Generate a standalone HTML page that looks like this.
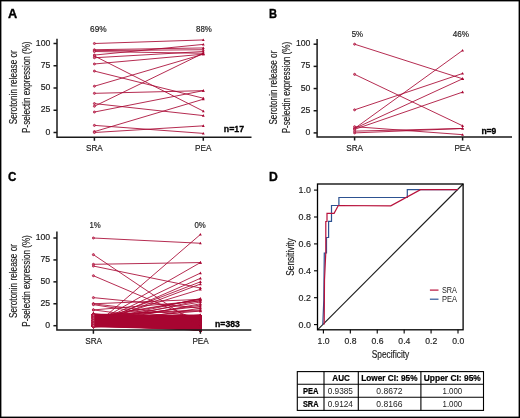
<!DOCTYPE html>
<html><head><meta charset="utf-8"><style>
html,body{margin:0;padding:0;background:#fff;}
svg{display:block;will-change:transform;font-family:"Liberation Sans",sans-serif;}
</style></head><body>
<svg width="520" height="418" viewBox="0 0 520 418">
<rect x="0.7" y="0.7" width="518.6" height="416.6" fill="#fff" stroke="#000" stroke-width="1.4"/>
<text x="7.9" y="18.0" font-size="12.5" font-weight="bold" text-anchor="start" fill="#000" textLength="9.2" lengthAdjust="spacingAndGlyphs" stroke="#000" stroke-width="0.35">A</text>
<text x="268.9" y="18.0" font-size="12.5" font-weight="bold" text-anchor="start" fill="#000" textLength="8.0" lengthAdjust="spacingAndGlyphs" stroke="#000" stroke-width="0.35">B</text>
<text x="8" y="180.6" font-size="12.5" font-weight="bold" text-anchor="start" fill="#000" textLength="8.4" lengthAdjust="spacingAndGlyphs" stroke="#000" stroke-width="0.35">C</text>
<text x="269" y="180.8" font-size="12.5" font-weight="bold" text-anchor="start" fill="#000" textLength="8.8" lengthAdjust="spacingAndGlyphs" stroke="#000" stroke-width="0.35">D</text>
<g stroke="#a80632" stroke-width="0.85" fill="none">
<line x1="94.4" y1="43.50" x2="203.3" y2="39.94"/>
<line x1="94.4" y1="49.73" x2="203.3" y2="47.95"/>
<line x1="94.4" y1="50.62" x2="203.3" y2="49.73"/>
<line x1="94.4" y1="51.51" x2="203.3" y2="53.29"/>
<line x1="94.4" y1="55.07" x2="203.3" y2="44.39"/>
<line x1="94.4" y1="55.96" x2="203.3" y2="111.14"/>
<line x1="94.4" y1="57.74" x2="203.3" y2="51.51"/>
<line x1="94.4" y1="63.97" x2="203.3" y2="54.18"/>
<line x1="94.4" y1="71.09" x2="203.3" y2="98.23"/>
<line x1="94.4" y1="86.22" x2="203.3" y2="54.18"/>
<line x1="94.4" y1="93.34" x2="203.3" y2="90.67"/>
<line x1="94.4" y1="103.58" x2="203.3" y2="115.59"/>
<line x1="94.4" y1="106.25" x2="203.3" y2="53.29"/>
<line x1="94.4" y1="112.03" x2="203.3" y2="90.67"/>
<line x1="94.4" y1="125.38" x2="203.3" y2="133.39"/>
<line x1="94.4" y1="131.61" x2="203.3" y2="99.21"/>
<line x1="94.4" y1="132.50" x2="203.3" y2="125.83"/>
</g>
<g stroke="#a80632" stroke-width="0.7" fill="#d7708c">
<circle cx="94.4" cy="43.50" r="1.05"/>
<circle cx="94.4" cy="49.73" r="1.05"/>
<circle cx="94.4" cy="50.62" r="1.05"/>
<circle cx="94.4" cy="51.51" r="1.05"/>
<circle cx="94.4" cy="55.07" r="1.05"/>
<circle cx="94.4" cy="55.96" r="1.05"/>
<circle cx="94.4" cy="57.74" r="1.05"/>
<circle cx="94.4" cy="63.97" r="1.05"/>
<circle cx="94.4" cy="71.09" r="1.05"/>
<circle cx="94.4" cy="86.22" r="1.05"/>
<circle cx="94.4" cy="93.34" r="1.05"/>
<circle cx="94.4" cy="103.58" r="1.05"/>
<circle cx="94.4" cy="106.25" r="1.05"/>
<circle cx="94.4" cy="112.03" r="1.05"/>
<circle cx="94.4" cy="125.38" r="1.05"/>
<circle cx="94.4" cy="131.61" r="1.05"/>
<circle cx="94.4" cy="132.50" r="1.05"/>
</g>
<g fill="#a80632">
<path d="M201.90 41.04L204.70 41.04L203.30 38.44Z"/>
<path d="M201.90 49.05L204.70 49.05L203.30 46.45Z"/>
<path d="M201.90 50.83L204.70 50.83L203.30 48.23Z"/>
<path d="M201.90 54.39L204.70 54.39L203.30 51.79Z"/>
<path d="M201.90 45.49L204.70 45.49L203.30 42.89Z"/>
<path d="M201.90 112.24L204.70 112.24L203.30 109.64Z"/>
<path d="M201.90 52.61L204.70 52.61L203.30 50.01Z"/>
<path d="M201.90 55.28L204.70 55.28L203.30 52.68Z"/>
<path d="M201.90 99.33L204.70 99.33L203.30 96.73Z"/>
<path d="M201.90 55.28L204.70 55.28L203.30 52.68Z"/>
<path d="M201.90 91.77L204.70 91.77L203.30 89.17Z"/>
<path d="M201.90 116.69L204.70 116.69L203.30 114.09Z"/>
<path d="M201.90 54.39L204.70 54.39L203.30 51.79Z"/>
<path d="M201.90 91.77L204.70 91.77L203.30 89.17Z"/>
<path d="M201.90 134.49L204.70 134.49L203.30 131.89Z"/>
<path d="M201.90 100.31L204.70 100.31L203.30 97.71Z"/>
<path d="M201.90 126.92L204.70 126.92L203.30 124.33Z"/>
</g>
<g stroke="#1a1a1a" stroke-width="1.5" fill="none">
<path d="M57 38.8V137.2H251.5"/>
<path d="M53.5 132.50H57"/>
<path d="M53.5 110.25H57"/>
<path d="M53.5 88.00H57"/>
<path d="M53.5 65.75H57"/>
<path d="M53.5 43.50H57"/>
<path d="M94.4 137.2v3.6M203.3 137.2v3.6"/>
</g>
<g stroke="#a80632" stroke-width="0.85" fill="none">
<line x1="354.6" y1="44.20" x2="462.6" y2="78.79"/>
<line x1="354.6" y1="74.36" x2="462.6" y2="125.80"/>
<line x1="354.6" y1="109.84" x2="462.6" y2="73.47"/>
<line x1="354.6" y1="128.47" x2="462.6" y2="50.41"/>
<line x1="354.6" y1="128.47" x2="462.6" y2="78.79"/>
<line x1="354.6" y1="129.35" x2="462.6" y2="92.10"/>
<line x1="354.6" y1="126.69" x2="462.6" y2="134.67"/>
<line x1="354.6" y1="132.90" x2="462.6" y2="128.47"/>
<line x1="354.6" y1="131.13" x2="462.6" y2="128.47"/>
</g>
<g stroke="#a80632" stroke-width="0.7" fill="#d7708c">
<circle cx="354.6" cy="44.20" r="1.05"/>
<circle cx="354.6" cy="74.36" r="1.05"/>
<circle cx="354.6" cy="109.84" r="1.05"/>
<circle cx="354.6" cy="128.47" r="1.05"/>
<circle cx="354.6" cy="128.47" r="1.05"/>
<circle cx="354.6" cy="129.35" r="1.05"/>
<circle cx="354.6" cy="126.69" r="1.05"/>
<circle cx="354.6" cy="132.90" r="1.05"/>
<circle cx="354.6" cy="131.13" r="1.05"/>
</g>
<g fill="#a80632">
<path d="M461.20 79.89L464.00 79.89L462.60 77.29Z"/>
<path d="M461.20 126.90L464.00 126.90L462.60 124.30Z"/>
<path d="M461.20 74.57L464.00 74.57L462.60 71.97Z"/>
<path d="M461.20 51.51L464.00 51.51L462.60 48.91Z"/>
<path d="M461.20 79.89L464.00 79.89L462.60 77.29Z"/>
<path d="M461.20 93.20L464.00 93.20L462.60 90.60Z"/>
<path d="M461.20 135.77L464.00 135.77L462.60 133.17Z"/>
<path d="M461.20 129.56L464.00 129.56L462.60 126.97Z"/>
<path d="M461.20 129.56L464.00 129.56L462.60 126.97Z"/>
</g>
<g stroke="#1a1a1a" stroke-width="1.5" fill="none">
<path d="M317.1 39V136.9H512"/>
<path d="M313.6 132.90H317.1"/>
<path d="M313.6 110.73H317.1"/>
<path d="M313.6 88.55H317.1"/>
<path d="M313.6 66.38H317.1"/>
<path d="M313.6 44.20H317.1"/>
<path d="M354.6 136.9v3.6M462.6 136.9v3.6"/>
</g>
<g stroke="#a80632" stroke-width="0.85" fill="none">
<line x1="93.4" y1="323.05" x2="200.4" y2="327.98"/>
<line x1="93.4" y1="318.77" x2="200.4" y2="329.25"/>
<line x1="93.4" y1="320.31" x2="200.4" y2="324.62"/>
<line x1="93.4" y1="326.19" x2="200.4" y2="322.46"/>
<line x1="93.4" y1="326.41" x2="200.4" y2="323.59"/>
<line x1="93.4" y1="326.07" x2="200.4" y2="328.95"/>
<line x1="93.4" y1="321.76" x2="200.4" y2="317.71"/>
<line x1="93.4" y1="325.46" x2="200.4" y2="326.83"/>
<line x1="93.4" y1="319.09" x2="200.4" y2="315.94"/>
<line x1="93.4" y1="319.75" x2="200.4" y2="324.15"/>
<line x1="93.4" y1="314.28" x2="200.4" y2="329.69"/>
<line x1="93.4" y1="315.93" x2="200.4" y2="325.80"/>
<line x1="93.4" y1="325.23" x2="200.4" y2="328.52"/>
<line x1="93.4" y1="323.24" x2="200.4" y2="317.87"/>
<line x1="93.4" y1="324.81" x2="200.4" y2="321.35"/>
<line x1="93.4" y1="318.93" x2="200.4" y2="324.52"/>
<line x1="93.4" y1="320.15" x2="200.4" y2="329.42"/>
<line x1="93.4" y1="326.17" x2="200.4" y2="327.10"/>
<line x1="93.4" y1="318.37" x2="200.4" y2="323.67"/>
<line x1="93.4" y1="323.17" x2="200.4" y2="321.29"/>
<line x1="93.4" y1="321.39" x2="200.4" y2="325.64"/>
<line x1="93.4" y1="316.82" x2="200.4" y2="319.60"/>
<line x1="93.4" y1="324.03" x2="200.4" y2="321.46"/>
<line x1="93.4" y1="320.45" x2="200.4" y2="317.00"/>
<line x1="93.4" y1="317.70" x2="200.4" y2="325.82"/>
<line x1="93.4" y1="314.23" x2="200.4" y2="328.51"/>
<line x1="93.4" y1="321.85" x2="200.4" y2="318.74"/>
<line x1="93.4" y1="325.14" x2="200.4" y2="322.74"/>
<line x1="93.4" y1="326.39" x2="200.4" y2="320.06"/>
<line x1="93.4" y1="317.22" x2="200.4" y2="321.48"/>
<line x1="93.4" y1="315.69" x2="200.4" y2="325.42"/>
<line x1="93.4" y1="318.17" x2="200.4" y2="321.16"/>
<line x1="93.4" y1="319.72" x2="200.4" y2="323.24"/>
<line x1="93.4" y1="316.18" x2="200.4" y2="315.98"/>
<line x1="93.4" y1="321.12" x2="200.4" y2="320.12"/>
<line x1="93.4" y1="326.16" x2="200.4" y2="319.56"/>
<line x1="93.4" y1="318.82" x2="200.4" y2="315.27"/>
<line x1="93.4" y1="316.43" x2="200.4" y2="325.88"/>
<line x1="93.4" y1="322.26" x2="200.4" y2="320.05"/>
<line x1="93.4" y1="326.55" x2="200.4" y2="323.16"/>
<line x1="93.4" y1="324.95" x2="200.4" y2="328.52"/>
<line x1="93.4" y1="326.18" x2="200.4" y2="318.58"/>
<line x1="93.4" y1="325.40" x2="200.4" y2="326.45"/>
<line x1="93.4" y1="322.19" x2="200.4" y2="317.05"/>
<line x1="93.4" y1="325.95" x2="200.4" y2="323.35"/>
<line x1="93.4" y1="320.12" x2="200.4" y2="316.88"/>
<line x1="93.4" y1="316.47" x2="200.4" y2="317.17"/>
<line x1="93.4" y1="323.61" x2="200.4" y2="323.87"/>
<line x1="93.4" y1="322.60" x2="200.4" y2="316.87"/>
<line x1="93.4" y1="314.54" x2="200.4" y2="327.98"/>
<line x1="93.4" y1="324.86" x2="200.4" y2="326.69"/>
<line x1="93.4" y1="324.17" x2="200.4" y2="322.81"/>
<line x1="93.4" y1="319.60" x2="200.4" y2="326.21"/>
<line x1="93.4" y1="326.73" x2="200.4" y2="323.81"/>
<line x1="93.4" y1="322.47" x2="200.4" y2="321.58"/>
<line x1="93.4" y1="314.61" x2="200.4" y2="319.73"/>
<line x1="93.4" y1="320.58" x2="200.4" y2="320.82"/>
<line x1="93.4" y1="318.43" x2="200.4" y2="329.57"/>
<line x1="93.4" y1="315.36" x2="200.4" y2="318.40"/>
<line x1="93.4" y1="315.70" x2="200.4" y2="318.14"/>
<line x1="93.4" y1="322.17" x2="200.4" y2="324.11"/>
<line x1="93.4" y1="325.70" x2="200.4" y2="320.56"/>
<line x1="93.4" y1="326.15" x2="200.4" y2="329.34"/>
<line x1="93.4" y1="324.46" x2="200.4" y2="327.80"/>
<line x1="93.4" y1="322.84" x2="200.4" y2="329.59"/>
<line x1="93.4" y1="326.75" x2="200.4" y2="327.97"/>
<line x1="93.4" y1="325.72" x2="200.4" y2="324.66"/>
<line x1="93.4" y1="326.52" x2="200.4" y2="317.02"/>
<line x1="93.4" y1="319.26" x2="200.4" y2="328.02"/>
<line x1="93.4" y1="323.94" x2="200.4" y2="324.90"/>
<line x1="93.4" y1="322.53" x2="200.4" y2="328.43"/>
<line x1="93.4" y1="316.06" x2="200.4" y2="315.27"/>
<line x1="93.4" y1="321.23" x2="200.4" y2="322.82"/>
<line x1="93.4" y1="325.89" x2="200.4" y2="328.77"/>
<line x1="93.4" y1="322.81" x2="200.4" y2="326.18"/>
<line x1="93.4" y1="316.33" x2="200.4" y2="327.81"/>
<line x1="93.4" y1="326.55" x2="200.4" y2="315.90"/>
<line x1="93.4" y1="320.40" x2="200.4" y2="328.05"/>
<line x1="93.4" y1="320.21" x2="200.4" y2="330.02"/>
<line x1="93.4" y1="320.41" x2="200.4" y2="315.49"/>
<line x1="93.4" y1="315.86" x2="200.4" y2="319.64"/>
<line x1="93.4" y1="323.83" x2="200.4" y2="324.60"/>
<line x1="93.4" y1="324.96" x2="200.4" y2="318.53"/>
<line x1="93.4" y1="320.35" x2="200.4" y2="318.42"/>
<line x1="93.4" y1="322.97" x2="200.4" y2="326.83"/>
<line x1="93.4" y1="316.58" x2="200.4" y2="315.40"/>
<line x1="93.4" y1="316.01" x2="200.4" y2="318.02"/>
<line x1="93.4" y1="316.48" x2="200.4" y2="319.00"/>
<line x1="93.4" y1="324.25" x2="200.4" y2="322.31"/>
<line x1="93.4" y1="322.65" x2="200.4" y2="329.99"/>
<line x1="93.4" y1="326.50" x2="200.4" y2="325.95"/>
<line x1="93.4" y1="323.85" x2="200.4" y2="319.70"/>
<line x1="93.4" y1="314.56" x2="200.4" y2="323.38"/>
<line x1="93.4" y1="314.83" x2="200.4" y2="315.35"/>
<line x1="93.4" y1="314.58" x2="200.4" y2="324.64"/>
<line x1="93.4" y1="324.32" x2="200.4" y2="326.77"/>
<line x1="93.4" y1="324.61" x2="200.4" y2="327.13"/>
<line x1="93.4" y1="319.13" x2="200.4" y2="316.63"/>
<line x1="93.4" y1="316.18" x2="200.4" y2="322.89"/>
<line x1="93.4" y1="318.74" x2="200.4" y2="318.11"/>
<line x1="93.4" y1="325.90" x2="200.4" y2="320.17"/>
<line x1="93.4" y1="315.21" x2="200.4" y2="318.37"/>
<line x1="93.4" y1="317.42" x2="200.4" y2="322.91"/>
<line x1="93.4" y1="324.83" x2="200.4" y2="318.27"/>
<line x1="93.4" y1="322.94" x2="200.4" y2="318.10"/>
<line x1="93.4" y1="314.34" x2="200.4" y2="324.16"/>
<line x1="93.4" y1="322.06" x2="200.4" y2="315.96"/>
<line x1="93.4" y1="317.76" x2="200.4" y2="327.67"/>
<line x1="93.4" y1="325.43" x2="200.4" y2="327.97"/>
<line x1="93.4" y1="315.28" x2="200.4" y2="318.01"/>
<line x1="93.4" y1="325.21" x2="200.4" y2="317.72"/>
<line x1="93.4" y1="314.23" x2="200.4" y2="320.22"/>
<line x1="93.4" y1="322.71" x2="200.4" y2="321.85"/>
<line x1="93.4" y1="325.38" x2="200.4" y2="330.25"/>
<line x1="93.4" y1="314.36" x2="200.4" y2="320.33"/>
<line x1="93.4" y1="320.43" x2="200.4" y2="316.15"/>
<line x1="93.4" y1="321.64" x2="200.4" y2="317.05"/>
<line x1="93.4" y1="316.38" x2="200.4" y2="327.02"/>
<line x1="93.4" y1="323.95" x2="200.4" y2="325.74"/>
<line x1="93.4" y1="324.08" x2="200.4" y2="321.28"/>
<line x1="93.4" y1="323.85" x2="200.4" y2="323.81"/>
<line x1="93.4" y1="325.38" x2="200.4" y2="316.49"/>
<line x1="93.4" y1="322.67" x2="200.4" y2="323.21"/>
<line x1="93.4" y1="319.68" x2="200.4" y2="316.58"/>
<line x1="93.4" y1="321.81" x2="200.4" y2="316.38"/>
<line x1="93.4" y1="320.75" x2="200.4" y2="322.10"/>
<line x1="93.4" y1="320.47" x2="200.4" y2="330.17"/>
<line x1="93.4" y1="321.56" x2="200.4" y2="327.46"/>
<line x1="93.4" y1="326.73" x2="200.4" y2="318.12"/>
<line x1="93.4" y1="324.90" x2="200.4" y2="322.98"/>
<line x1="93.4" y1="317.76" x2="200.4" y2="321.73"/>
<line x1="93.4" y1="323.03" x2="200.4" y2="322.31"/>
<line x1="93.4" y1="320.04" x2="200.4" y2="318.34"/>
<line x1="93.4" y1="325.66" x2="200.4" y2="321.67"/>
<line x1="93.4" y1="323.98" x2="200.4" y2="325.99"/>
<line x1="93.4" y1="317.11" x2="200.4" y2="322.46"/>
<line x1="93.4" y1="319.96" x2="200.4" y2="318.70"/>
<line x1="93.4" y1="315.18" x2="200.4" y2="323.44"/>
<line x1="93.4" y1="319.28" x2="200.4" y2="322.50"/>
<line x1="93.4" y1="320.62" x2="200.4" y2="319.69"/>
<line x1="93.4" y1="321.40" x2="200.4" y2="322.08"/>
<line x1="93.4" y1="321.07" x2="200.4" y2="316.03"/>
<line x1="93.4" y1="318.11" x2="200.4" y2="316.98"/>
<line x1="93.4" y1="314.76" x2="200.4" y2="326.26"/>
<line x1="93.4" y1="319.99" x2="200.4" y2="316.00"/>
<line x1="93.4" y1="316.18" x2="200.4" y2="328.20"/>
<line x1="93.4" y1="325.49" x2="200.4" y2="323.45"/>
<line x1="93.4" y1="326.04" x2="200.4" y2="326.56"/>
<line x1="93.4" y1="326.03" x2="200.4" y2="320.04"/>
<line x1="93.4" y1="316.96" x2="200.4" y2="316.68"/>
<line x1="93.4" y1="325.11" x2="200.4" y2="319.35"/>
<line x1="93.4" y1="318.64" x2="200.4" y2="328.10"/>
<line x1="93.4" y1="315.59" x2="200.4" y2="315.65"/>
<line x1="93.4" y1="324.33" x2="200.4" y2="315.87"/>
<line x1="93.4" y1="322.10" x2="200.4" y2="322.77"/>
<line x1="93.4" y1="314.09" x2="200.4" y2="317.63"/>
<line x1="93.4" y1="325.03" x2="200.4" y2="323.61"/>
<line x1="93.4" y1="320.57" x2="200.4" y2="325.03"/>
<line x1="93.4" y1="324.62" x2="200.4" y2="325.35"/>
<line x1="93.4" y1="317.80" x2="200.4" y2="330.16"/>
<line x1="93.4" y1="320.06" x2="200.4" y2="323.48"/>
<line x1="93.4" y1="326.59" x2="200.4" y2="325.15"/>
<line x1="93.4" y1="319.13" x2="200.4" y2="322.39"/>
<line x1="93.4" y1="326.13" x2="200.4" y2="315.40"/>
<line x1="93.4" y1="316.89" x2="200.4" y2="315.59"/>
<line x1="93.4" y1="325.68" x2="200.4" y2="326.16"/>
<line x1="93.4" y1="326.38" x2="200.4" y2="318.42"/>
<line x1="93.4" y1="323.72" x2="200.4" y2="328.32"/>
<line x1="93.4" y1="321.79" x2="200.4" y2="316.47"/>
<line x1="93.4" y1="316.47" x2="200.4" y2="326.28"/>
<line x1="93.4" y1="325.17" x2="200.4" y2="316.36"/>
<line x1="93.4" y1="319.84" x2="200.4" y2="319.58"/>
<line x1="93.4" y1="325.85" x2="200.4" y2="329.51"/>
<line x1="93.4" y1="318.26" x2="200.4" y2="323.71"/>
<line x1="93.4" y1="326.04" x2="200.4" y2="316.08"/>
<line x1="93.4" y1="318.99" x2="200.4" y2="318.09"/>
<line x1="93.4" y1="325.92" x2="200.4" y2="317.28"/>
<line x1="93.4" y1="326.10" x2="200.4" y2="317.18"/>
<line x1="93.4" y1="321.39" x2="200.4" y2="325.03"/>
<line x1="93.4" y1="320.08" x2="200.4" y2="316.25"/>
<line x1="93.4" y1="323.74" x2="200.4" y2="328.32"/>
<line x1="93.4" y1="320.42" x2="200.4" y2="326.59"/>
<line x1="93.4" y1="325.63" x2="200.4" y2="327.80"/>
<line x1="93.4" y1="326.27" x2="200.4" y2="327.16"/>
<line x1="93.4" y1="323.20" x2="200.4" y2="325.56"/>
<line x1="93.4" y1="317.29" x2="200.4" y2="325.79"/>
<line x1="93.4" y1="320.78" x2="200.4" y2="327.55"/>
<line x1="93.4" y1="322.75" x2="200.4" y2="330.18"/>
<line x1="93.4" y1="323.96" x2="200.4" y2="330.23"/>
<line x1="93.4" y1="317.65" x2="200.4" y2="321.81"/>
<line x1="93.4" y1="324.70" x2="200.4" y2="322.96"/>
<line x1="93.4" y1="314.87" x2="200.4" y2="328.70"/>
<line x1="93.4" y1="316.47" x2="200.4" y2="323.60"/>
<line x1="93.4" y1="320.84" x2="200.4" y2="317.60"/>
<line x1="93.4" y1="322.17" x2="200.4" y2="322.48"/>
<line x1="93.4" y1="318.27" x2="200.4" y2="315.43"/>
<line x1="93.4" y1="322.81" x2="200.4" y2="317.63"/>
<line x1="93.4" y1="318.01" x2="200.4" y2="320.54"/>
<line x1="93.4" y1="322.02" x2="200.4" y2="324.90"/>
<line x1="93.4" y1="326.23" x2="200.4" y2="328.31"/>
<line x1="93.4" y1="326.06" x2="200.4" y2="318.98"/>
<line x1="93.4" y1="323.89" x2="200.4" y2="327.78"/>
<line x1="93.4" y1="325.91" x2="200.4" y2="317.50"/>
<line x1="93.4" y1="315.76" x2="200.4" y2="320.03"/>
<line x1="93.4" y1="323.57" x2="200.4" y2="326.53"/>
<line x1="93.4" y1="323.44" x2="200.4" y2="323.19"/>
<line x1="93.4" y1="325.08" x2="200.4" y2="323.40"/>
<line x1="93.4" y1="323.81" x2="200.4" y2="315.74"/>
<line x1="93.4" y1="314.33" x2="200.4" y2="321.87"/>
<line x1="93.4" y1="324.03" x2="200.4" y2="315.68"/>
<line x1="93.4" y1="323.23" x2="200.4" y2="324.76"/>
<line x1="93.4" y1="326.74" x2="200.4" y2="324.38"/>
<line x1="93.4" y1="321.11" x2="200.4" y2="322.53"/>
<line x1="93.4" y1="324.56" x2="200.4" y2="322.51"/>
<line x1="93.4" y1="326.72" x2="200.4" y2="326.19"/>
<line x1="93.4" y1="325.85" x2="200.4" y2="324.10"/>
<line x1="93.4" y1="326.37" x2="200.4" y2="330.10"/>
<line x1="93.4" y1="323.30" x2="200.4" y2="326.68"/>
<line x1="93.4" y1="319.65" x2="200.4" y2="322.14"/>
<line x1="93.4" y1="317.41" x2="200.4" y2="320.22"/>
<line x1="93.4" y1="317.89" x2="200.4" y2="316.95"/>
<line x1="93.4" y1="322.21" x2="200.4" y2="325.23"/>
<line x1="93.4" y1="314.17" x2="200.4" y2="328.00"/>
<line x1="93.4" y1="317.77" x2="200.4" y2="320.43"/>
<line x1="93.4" y1="326.34" x2="200.4" y2="317.59"/>
<line x1="93.4" y1="315.47" x2="200.4" y2="320.67"/>
<line x1="93.4" y1="317.64" x2="200.4" y2="317.93"/>
<line x1="93.4" y1="325.29" x2="200.4" y2="322.22"/>
<line x1="93.4" y1="320.72" x2="200.4" y2="317.60"/>
<line x1="93.4" y1="316.67" x2="200.4" y2="317.72"/>
<line x1="93.4" y1="319.67" x2="200.4" y2="316.75"/>
<line x1="93.4" y1="318.33" x2="200.4" y2="319.68"/>
<line x1="93.4" y1="324.21" x2="200.4" y2="329.95"/>
<line x1="93.4" y1="325.36" x2="200.4" y2="324.70"/>
<line x1="93.4" y1="325.68" x2="200.4" y2="317.58"/>
<line x1="93.4" y1="320.01" x2="200.4" y2="320.67"/>
<line x1="93.4" y1="319.10" x2="200.4" y2="319.88"/>
<line x1="93.4" y1="320.92" x2="200.4" y2="330.45"/>
<line x1="93.4" y1="316.76" x2="200.4" y2="318.87"/>
<line x1="93.4" y1="320.74" x2="200.4" y2="322.05"/>
<line x1="93.4" y1="318.66" x2="200.4" y2="329.37"/>
<line x1="93.4" y1="317.61" x2="200.4" y2="326.38"/>
<line x1="93.4" y1="326.02" x2="200.4" y2="326.16"/>
<line x1="93.4" y1="317.70" x2="200.4" y2="327.11"/>
<line x1="93.4" y1="317.56" x2="200.4" y2="315.53"/>
<line x1="93.4" y1="320.86" x2="200.4" y2="324.37"/>
<line x1="93.4" y1="321.05" x2="200.4" y2="319.83"/>
<line x1="93.4" y1="317.19" x2="200.4" y2="320.82"/>
<line x1="93.4" y1="318.88" x2="200.4" y2="329.17"/>
<line x1="93.4" y1="325.19" x2="200.4" y2="326.35"/>
<line x1="93.4" y1="317.52" x2="200.4" y2="325.57"/>
<line x1="93.4" y1="319.89" x2="200.4" y2="330.29"/>
<line x1="93.4" y1="326.16" x2="200.4" y2="326.12"/>
<line x1="93.4" y1="318.48" x2="200.4" y2="319.70"/>
<line x1="93.4" y1="318.43" x2="200.4" y2="325.78"/>
<line x1="93.4" y1="320.56" x2="200.4" y2="323.11"/>
<line x1="93.4" y1="321.22" x2="200.4" y2="328.50"/>
<line x1="93.4" y1="315.44" x2="200.4" y2="327.21"/>
<line x1="93.4" y1="314.26" x2="200.4" y2="316.11"/>
<line x1="93.4" y1="326.60" x2="200.4" y2="323.20"/>
<line x1="93.4" y1="316.46" x2="200.4" y2="315.64"/>
<line x1="93.4" y1="321.44" x2="200.4" y2="326.12"/>
<line x1="93.4" y1="324.45" x2="200.4" y2="315.97"/>
<line x1="93.4" y1="324.45" x2="200.4" y2="321.35"/>
<line x1="93.4" y1="325.26" x2="200.4" y2="322.22"/>
<line x1="93.4" y1="314.61" x2="200.4" y2="328.27"/>
<line x1="93.4" y1="316.46" x2="200.4" y2="322.45"/>
<line x1="93.4" y1="315.54" x2="200.4" y2="319.53"/>
<line x1="93.4" y1="324.19" x2="200.4" y2="316.68"/>
<line x1="93.4" y1="320.96" x2="200.4" y2="330.07"/>
<line x1="93.4" y1="326.73" x2="200.4" y2="322.70"/>
<line x1="93.4" y1="321.42" x2="200.4" y2="325.60"/>
<line x1="93.4" y1="325.27" x2="200.4" y2="324.95"/>
<line x1="93.4" y1="323.15" x2="200.4" y2="317.52"/>
<line x1="93.4" y1="326.74" x2="200.4" y2="318.83"/>
<line x1="93.4" y1="316.19" x2="200.4" y2="328.47"/>
<line x1="93.4" y1="314.98" x2="200.4" y2="319.39"/>
<line x1="93.4" y1="315.33" x2="200.4" y2="325.79"/>
<line x1="93.4" y1="322.44" x2="200.4" y2="324.21"/>
<line x1="93.4" y1="313.97" x2="200.4" y2="321.24"/>
<line x1="93.4" y1="322.58" x2="200.4" y2="323.67"/>
<line x1="93.4" y1="323.66" x2="200.4" y2="329.66"/>
<line x1="93.4" y1="325.72" x2="200.4" y2="317.60"/>
<line x1="93.4" y1="323.53" x2="200.4" y2="316.11"/>
<line x1="93.4" y1="323.97" x2="200.4" y2="326.16"/>
<line x1="93.4" y1="320.63" x2="200.4" y2="327.36"/>
<line x1="93.4" y1="322.42" x2="200.4" y2="315.82"/>
<line x1="93.4" y1="315.57" x2="200.4" y2="317.93"/>
<line x1="93.4" y1="319.03" x2="200.4" y2="316.44"/>
<line x1="93.4" y1="314.78" x2="200.4" y2="321.84"/>
<line x1="93.4" y1="317.83" x2="200.4" y2="329.64"/>
<line x1="93.4" y1="317.67" x2="200.4" y2="323.32"/>
<line x1="93.4" y1="317.39" x2="200.4" y2="320.41"/>
<line x1="93.4" y1="323.52" x2="200.4" y2="329.65"/>
<line x1="93.4" y1="314.97" x2="200.4" y2="328.36"/>
<line x1="93.4" y1="321.14" x2="200.4" y2="324.96"/>
<line x1="93.4" y1="323.38" x2="200.4" y2="319.01"/>
<line x1="93.4" y1="314.28" x2="200.4" y2="326.25"/>
<line x1="93.4" y1="318.70" x2="200.4" y2="325.62"/>
<line x1="93.4" y1="320.03" x2="200.4" y2="324.18"/>
<line x1="93.4" y1="324.96" x2="200.4" y2="327.80"/>
<line x1="93.4" y1="324.48" x2="200.4" y2="316.55"/>
<line x1="93.4" y1="320.82" x2="200.4" y2="326.88"/>
<line x1="93.4" y1="315.26" x2="200.4" y2="315.23"/>
<line x1="93.4" y1="321.43" x2="200.4" y2="328.16"/>
<line x1="93.4" y1="324.67" x2="200.4" y2="328.95"/>
<line x1="93.4" y1="322.82" x2="200.4" y2="328.94"/>
<line x1="93.4" y1="324.10" x2="200.4" y2="326.28"/>
<line x1="93.4" y1="319.86" x2="200.4" y2="316.82"/>
<line x1="93.4" y1="317.43" x2="200.4" y2="323.90"/>
<line x1="93.4" y1="321.90" x2="200.4" y2="322.22"/>
<line x1="93.4" y1="322.38" x2="200.4" y2="325.04"/>
<line x1="93.4" y1="326.15" x2="200.4" y2="325.98"/>
<line x1="93.4" y1="314.40" x2="200.4" y2="328.38"/>
<line x1="93.4" y1="320.74" x2="200.4" y2="320.63"/>
<line x1="93.4" y1="315.87" x2="200.4" y2="326.95"/>
<line x1="93.4" y1="323.71" x2="200.4" y2="326.44"/>
<line x1="93.4" y1="322.08" x2="200.4" y2="323.40"/>
<line x1="93.4" y1="314.60" x2="200.4" y2="317.39"/>
<line x1="93.4" y1="315.73" x2="200.4" y2="330.12"/>
<line x1="93.4" y1="326.46" x2="200.4" y2="319.45"/>
<line x1="93.4" y1="315.41" x2="200.4" y2="322.98"/>
<line x1="93.4" y1="319.62" x2="200.4" y2="330.52"/>
<line x1="93.4" y1="322.19" x2="200.4" y2="316.25"/>
<line x1="93.4" y1="316.39" x2="200.4" y2="317.29"/>
<line x1="93.4" y1="314.34" x2="200.4" y2="326.44"/>
<line x1="93.4" y1="325.63" x2="200.4" y2="327.92"/>
<line x1="93.4" y1="320.48" x2="200.4" y2="319.85"/>
<line x1="93.4" y1="314.77" x2="200.4" y2="319.26"/>
<line x1="93.4" y1="318.82" x2="200.4" y2="318.63"/>
<line x1="93.4" y1="321.34" x2="200.4" y2="321.81"/>
<line x1="93.4" y1="326.38" x2="200.4" y2="318.37"/>
<line x1="93.4" y1="324.18" x2="200.4" y2="316.34"/>
<line x1="93.4" y1="318.84" x2="200.4" y2="325.58"/>
<line x1="93.4" y1="325.42" x2="200.4" y2="326.38"/>
<line x1="93.4" y1="318.96" x2="200.4" y2="319.60"/>
<line x1="93.4" y1="325.59" x2="200.4" y2="329.29"/>
<line x1="93.4" y1="320.46" x2="200.4" y2="321.33"/>
<line x1="93.4" y1="322.24" x2="200.4" y2="326.82"/>
<line x1="93.4" y1="319.44" x2="200.4" y2="330.32"/>
<line x1="93.4" y1="323.33" x2="200.4" y2="323.17"/>
<line x1="93.4" y1="314.53" x2="200.4" y2="320.41"/>
<line x1="93.4" y1="315.58" x2="200.4" y2="322.95"/>
<line x1="93.4" y1="324.15" x2="200.4" y2="326.45"/>
<line x1="93.4" y1="314.78" x2="200.4" y2="310.85"/>
<line x1="93.4" y1="322.81" x2="200.4" y2="315.04"/>
<line x1="93.4" y1="320.46" x2="200.4" y2="311.04"/>
<line x1="93.4" y1="321.42" x2="200.4" y2="305.03"/>
<line x1="93.4" y1="318.39" x2="200.4" y2="299.17"/>
<line x1="93.4" y1="238.00" x2="200.4" y2="243.26"/>
<line x1="93.4" y1="254.66" x2="200.4" y2="326.58"/>
<line x1="93.4" y1="264.31" x2="200.4" y2="262.56"/>
<line x1="93.4" y1="266.06" x2="200.4" y2="287.99"/>
<line x1="93.4" y1="275.71" x2="200.4" y2="321.31"/>
<line x1="93.4" y1="326.58" x2="200.4" y2="234.49"/>
<line x1="93.4" y1="323.95" x2="200.4" y2="262.56"/>
<line x1="93.4" y1="323.95" x2="200.4" y2="273.08"/>
<line x1="93.4" y1="324.82" x2="200.4" y2="278.34"/>
<line x1="93.4" y1="323.07" x2="200.4" y2="281.85"/>
<line x1="93.4" y1="324.82" x2="200.4" y2="284.04"/>
<line x1="93.4" y1="322.19" x2="200.4" y2="289.39"/>
<line x1="93.4" y1="297.64" x2="200.4" y2="308.16"/>
<line x1="93.4" y1="303.77" x2="200.4" y2="316.93"/>
<line x1="93.4" y1="303.77" x2="200.4" y2="299.39"/>
<line x1="93.4" y1="304.65" x2="200.4" y2="321.31"/>
<line x1="93.4" y1="309.91" x2="200.4" y2="301.14"/>
<line x1="93.4" y1="309.91" x2="200.4" y2="323.95"/>
<line x1="93.4" y1="321.31" x2="200.4" y2="298.51"/>
<line x1="93.4" y1="323.07" x2="200.4" y2="300.27"/>
<line x1="93.4" y1="320.44" x2="200.4" y2="302.02"/>
<line x1="93.4" y1="323.95" x2="200.4" y2="303.77"/>
<line x1="93.4" y1="318.68" x2="200.4" y2="306.41"/>
<line x1="93.4" y1="316.93" x2="200.4" y2="299.39"/>
<line x1="93.4" y1="325.70" x2="200.4" y2="308.16"/>
<line x1="93.4" y1="315.18" x2="200.4" y2="309.91"/>
</g>
<g stroke="#a80632" stroke-width="0.7" fill="#d7708c">
<circle cx="93.4" cy="323.05" r="1.05"/>
<circle cx="93.4" cy="318.77" r="1.05"/>
<circle cx="93.4" cy="320.31" r="1.05"/>
<circle cx="93.4" cy="326.19" r="1.05"/>
<circle cx="93.4" cy="326.41" r="1.05"/>
<circle cx="93.4" cy="326.07" r="1.05"/>
<circle cx="93.4" cy="321.76" r="1.05"/>
<circle cx="93.4" cy="325.46" r="1.05"/>
<circle cx="93.4" cy="319.09" r="1.05"/>
<circle cx="93.4" cy="319.75" r="1.05"/>
<circle cx="93.4" cy="314.28" r="1.05"/>
<circle cx="93.4" cy="315.93" r="1.05"/>
<circle cx="93.4" cy="325.23" r="1.05"/>
<circle cx="93.4" cy="323.24" r="1.05"/>
<circle cx="93.4" cy="324.81" r="1.05"/>
<circle cx="93.4" cy="318.93" r="1.05"/>
<circle cx="93.4" cy="320.15" r="1.05"/>
<circle cx="93.4" cy="326.17" r="1.05"/>
<circle cx="93.4" cy="318.37" r="1.05"/>
<circle cx="93.4" cy="323.17" r="1.05"/>
<circle cx="93.4" cy="321.39" r="1.05"/>
<circle cx="93.4" cy="316.82" r="1.05"/>
<circle cx="93.4" cy="324.03" r="1.05"/>
<circle cx="93.4" cy="320.45" r="1.05"/>
<circle cx="93.4" cy="317.70" r="1.05"/>
<circle cx="93.4" cy="314.23" r="1.05"/>
<circle cx="93.4" cy="321.85" r="1.05"/>
<circle cx="93.4" cy="325.14" r="1.05"/>
<circle cx="93.4" cy="326.39" r="1.05"/>
<circle cx="93.4" cy="317.22" r="1.05"/>
<circle cx="93.4" cy="315.69" r="1.05"/>
<circle cx="93.4" cy="318.17" r="1.05"/>
<circle cx="93.4" cy="319.72" r="1.05"/>
<circle cx="93.4" cy="316.18" r="1.05"/>
<circle cx="93.4" cy="321.12" r="1.05"/>
<circle cx="93.4" cy="326.16" r="1.05"/>
<circle cx="93.4" cy="318.82" r="1.05"/>
<circle cx="93.4" cy="316.43" r="1.05"/>
<circle cx="93.4" cy="322.26" r="1.05"/>
<circle cx="93.4" cy="326.55" r="1.05"/>
<circle cx="93.4" cy="324.95" r="1.05"/>
<circle cx="93.4" cy="326.18" r="1.05"/>
<circle cx="93.4" cy="325.40" r="1.05"/>
<circle cx="93.4" cy="322.19" r="1.05"/>
<circle cx="93.4" cy="325.95" r="1.05"/>
<circle cx="93.4" cy="320.12" r="1.05"/>
<circle cx="93.4" cy="316.47" r="1.05"/>
<circle cx="93.4" cy="323.61" r="1.05"/>
<circle cx="93.4" cy="322.60" r="1.05"/>
<circle cx="93.4" cy="314.54" r="1.05"/>
<circle cx="93.4" cy="324.86" r="1.05"/>
<circle cx="93.4" cy="324.17" r="1.05"/>
<circle cx="93.4" cy="319.60" r="1.05"/>
<circle cx="93.4" cy="326.73" r="1.05"/>
<circle cx="93.4" cy="322.47" r="1.05"/>
<circle cx="93.4" cy="314.61" r="1.05"/>
<circle cx="93.4" cy="320.58" r="1.05"/>
<circle cx="93.4" cy="318.43" r="1.05"/>
<circle cx="93.4" cy="315.36" r="1.05"/>
<circle cx="93.4" cy="315.70" r="1.05"/>
<circle cx="93.4" cy="322.17" r="1.05"/>
<circle cx="93.4" cy="325.70" r="1.05"/>
<circle cx="93.4" cy="326.15" r="1.05"/>
<circle cx="93.4" cy="324.46" r="1.05"/>
<circle cx="93.4" cy="322.84" r="1.05"/>
<circle cx="93.4" cy="326.75" r="1.05"/>
<circle cx="93.4" cy="325.72" r="1.05"/>
<circle cx="93.4" cy="326.52" r="1.05"/>
<circle cx="93.4" cy="319.26" r="1.05"/>
<circle cx="93.4" cy="323.94" r="1.05"/>
<circle cx="93.4" cy="322.53" r="1.05"/>
<circle cx="93.4" cy="316.06" r="1.05"/>
<circle cx="93.4" cy="321.23" r="1.05"/>
<circle cx="93.4" cy="325.89" r="1.05"/>
<circle cx="93.4" cy="322.81" r="1.05"/>
<circle cx="93.4" cy="316.33" r="1.05"/>
<circle cx="93.4" cy="326.55" r="1.05"/>
<circle cx="93.4" cy="320.40" r="1.05"/>
<circle cx="93.4" cy="320.21" r="1.05"/>
<circle cx="93.4" cy="320.41" r="1.05"/>
<circle cx="93.4" cy="315.86" r="1.05"/>
<circle cx="93.4" cy="323.83" r="1.05"/>
<circle cx="93.4" cy="324.96" r="1.05"/>
<circle cx="93.4" cy="320.35" r="1.05"/>
<circle cx="93.4" cy="322.97" r="1.05"/>
<circle cx="93.4" cy="316.58" r="1.05"/>
<circle cx="93.4" cy="316.01" r="1.05"/>
<circle cx="93.4" cy="316.48" r="1.05"/>
<circle cx="93.4" cy="324.25" r="1.05"/>
<circle cx="93.4" cy="322.65" r="1.05"/>
<circle cx="93.4" cy="326.50" r="1.05"/>
<circle cx="93.4" cy="323.85" r="1.05"/>
<circle cx="93.4" cy="314.56" r="1.05"/>
<circle cx="93.4" cy="314.83" r="1.05"/>
<circle cx="93.4" cy="314.58" r="1.05"/>
<circle cx="93.4" cy="324.32" r="1.05"/>
<circle cx="93.4" cy="324.61" r="1.05"/>
<circle cx="93.4" cy="319.13" r="1.05"/>
<circle cx="93.4" cy="316.18" r="1.05"/>
<circle cx="93.4" cy="318.74" r="1.05"/>
<circle cx="93.4" cy="325.90" r="1.05"/>
<circle cx="93.4" cy="315.21" r="1.05"/>
<circle cx="93.4" cy="317.42" r="1.05"/>
<circle cx="93.4" cy="324.83" r="1.05"/>
<circle cx="93.4" cy="322.94" r="1.05"/>
<circle cx="93.4" cy="314.34" r="1.05"/>
<circle cx="93.4" cy="322.06" r="1.05"/>
<circle cx="93.4" cy="317.76" r="1.05"/>
<circle cx="93.4" cy="325.43" r="1.05"/>
<circle cx="93.4" cy="315.28" r="1.05"/>
<circle cx="93.4" cy="325.21" r="1.05"/>
<circle cx="93.4" cy="314.23" r="1.05"/>
<circle cx="93.4" cy="322.71" r="1.05"/>
<circle cx="93.4" cy="325.38" r="1.05"/>
<circle cx="93.4" cy="314.36" r="1.05"/>
<circle cx="93.4" cy="320.43" r="1.05"/>
<circle cx="93.4" cy="321.64" r="1.05"/>
<circle cx="93.4" cy="316.38" r="1.05"/>
<circle cx="93.4" cy="323.95" r="1.05"/>
<circle cx="93.4" cy="324.08" r="1.05"/>
<circle cx="93.4" cy="323.85" r="1.05"/>
<circle cx="93.4" cy="325.38" r="1.05"/>
<circle cx="93.4" cy="322.67" r="1.05"/>
<circle cx="93.4" cy="319.68" r="1.05"/>
<circle cx="93.4" cy="321.81" r="1.05"/>
<circle cx="93.4" cy="320.75" r="1.05"/>
<circle cx="93.4" cy="320.47" r="1.05"/>
<circle cx="93.4" cy="321.56" r="1.05"/>
<circle cx="93.4" cy="326.73" r="1.05"/>
<circle cx="93.4" cy="324.90" r="1.05"/>
<circle cx="93.4" cy="317.76" r="1.05"/>
<circle cx="93.4" cy="323.03" r="1.05"/>
<circle cx="93.4" cy="320.04" r="1.05"/>
<circle cx="93.4" cy="325.66" r="1.05"/>
<circle cx="93.4" cy="323.98" r="1.05"/>
<circle cx="93.4" cy="317.11" r="1.05"/>
<circle cx="93.4" cy="319.96" r="1.05"/>
<circle cx="93.4" cy="315.18" r="1.05"/>
<circle cx="93.4" cy="319.28" r="1.05"/>
<circle cx="93.4" cy="320.62" r="1.05"/>
<circle cx="93.4" cy="321.40" r="1.05"/>
<circle cx="93.4" cy="321.07" r="1.05"/>
<circle cx="93.4" cy="318.11" r="1.05"/>
<circle cx="93.4" cy="314.76" r="1.05"/>
<circle cx="93.4" cy="319.99" r="1.05"/>
<circle cx="93.4" cy="316.18" r="1.05"/>
<circle cx="93.4" cy="325.49" r="1.05"/>
<circle cx="93.4" cy="326.04" r="1.05"/>
<circle cx="93.4" cy="326.03" r="1.05"/>
<circle cx="93.4" cy="316.96" r="1.05"/>
<circle cx="93.4" cy="325.11" r="1.05"/>
<circle cx="93.4" cy="318.64" r="1.05"/>
<circle cx="93.4" cy="315.59" r="1.05"/>
<circle cx="93.4" cy="324.33" r="1.05"/>
<circle cx="93.4" cy="322.10" r="1.05"/>
<circle cx="93.4" cy="314.09" r="1.05"/>
<circle cx="93.4" cy="325.03" r="1.05"/>
<circle cx="93.4" cy="320.57" r="1.05"/>
<circle cx="93.4" cy="324.62" r="1.05"/>
<circle cx="93.4" cy="317.80" r="1.05"/>
<circle cx="93.4" cy="320.06" r="1.05"/>
<circle cx="93.4" cy="326.59" r="1.05"/>
<circle cx="93.4" cy="319.13" r="1.05"/>
<circle cx="93.4" cy="326.13" r="1.05"/>
<circle cx="93.4" cy="316.89" r="1.05"/>
<circle cx="93.4" cy="325.68" r="1.05"/>
<circle cx="93.4" cy="326.38" r="1.05"/>
<circle cx="93.4" cy="323.72" r="1.05"/>
<circle cx="93.4" cy="321.79" r="1.05"/>
<circle cx="93.4" cy="316.47" r="1.05"/>
<circle cx="93.4" cy="325.17" r="1.05"/>
<circle cx="93.4" cy="319.84" r="1.05"/>
<circle cx="93.4" cy="325.85" r="1.05"/>
<circle cx="93.4" cy="318.26" r="1.05"/>
<circle cx="93.4" cy="326.04" r="1.05"/>
<circle cx="93.4" cy="318.99" r="1.05"/>
<circle cx="93.4" cy="325.92" r="1.05"/>
<circle cx="93.4" cy="326.10" r="1.05"/>
<circle cx="93.4" cy="321.39" r="1.05"/>
<circle cx="93.4" cy="320.08" r="1.05"/>
<circle cx="93.4" cy="323.74" r="1.05"/>
<circle cx="93.4" cy="320.42" r="1.05"/>
<circle cx="93.4" cy="325.63" r="1.05"/>
<circle cx="93.4" cy="326.27" r="1.05"/>
<circle cx="93.4" cy="323.20" r="1.05"/>
<circle cx="93.4" cy="317.29" r="1.05"/>
<circle cx="93.4" cy="320.78" r="1.05"/>
<circle cx="93.4" cy="322.75" r="1.05"/>
<circle cx="93.4" cy="323.96" r="1.05"/>
<circle cx="93.4" cy="317.65" r="1.05"/>
<circle cx="93.4" cy="324.70" r="1.05"/>
<circle cx="93.4" cy="314.87" r="1.05"/>
<circle cx="93.4" cy="316.47" r="1.05"/>
<circle cx="93.4" cy="320.84" r="1.05"/>
<circle cx="93.4" cy="322.17" r="1.05"/>
<circle cx="93.4" cy="318.27" r="1.05"/>
<circle cx="93.4" cy="322.81" r="1.05"/>
<circle cx="93.4" cy="318.01" r="1.05"/>
<circle cx="93.4" cy="322.02" r="1.05"/>
<circle cx="93.4" cy="326.23" r="1.05"/>
<circle cx="93.4" cy="326.06" r="1.05"/>
<circle cx="93.4" cy="323.89" r="1.05"/>
<circle cx="93.4" cy="325.91" r="1.05"/>
<circle cx="93.4" cy="315.76" r="1.05"/>
<circle cx="93.4" cy="323.57" r="1.05"/>
<circle cx="93.4" cy="323.44" r="1.05"/>
<circle cx="93.4" cy="325.08" r="1.05"/>
<circle cx="93.4" cy="323.81" r="1.05"/>
<circle cx="93.4" cy="314.33" r="1.05"/>
<circle cx="93.4" cy="324.03" r="1.05"/>
<circle cx="93.4" cy="323.23" r="1.05"/>
<circle cx="93.4" cy="326.74" r="1.05"/>
<circle cx="93.4" cy="321.11" r="1.05"/>
<circle cx="93.4" cy="324.56" r="1.05"/>
<circle cx="93.4" cy="326.72" r="1.05"/>
<circle cx="93.4" cy="325.85" r="1.05"/>
<circle cx="93.4" cy="326.37" r="1.05"/>
<circle cx="93.4" cy="323.30" r="1.05"/>
<circle cx="93.4" cy="319.65" r="1.05"/>
<circle cx="93.4" cy="317.41" r="1.05"/>
<circle cx="93.4" cy="317.89" r="1.05"/>
<circle cx="93.4" cy="322.21" r="1.05"/>
<circle cx="93.4" cy="314.17" r="1.05"/>
<circle cx="93.4" cy="317.77" r="1.05"/>
<circle cx="93.4" cy="326.34" r="1.05"/>
<circle cx="93.4" cy="315.47" r="1.05"/>
<circle cx="93.4" cy="317.64" r="1.05"/>
<circle cx="93.4" cy="325.29" r="1.05"/>
<circle cx="93.4" cy="320.72" r="1.05"/>
<circle cx="93.4" cy="316.67" r="1.05"/>
<circle cx="93.4" cy="319.67" r="1.05"/>
<circle cx="93.4" cy="318.33" r="1.05"/>
<circle cx="93.4" cy="324.21" r="1.05"/>
<circle cx="93.4" cy="325.36" r="1.05"/>
<circle cx="93.4" cy="325.68" r="1.05"/>
<circle cx="93.4" cy="320.01" r="1.05"/>
<circle cx="93.4" cy="319.10" r="1.05"/>
<circle cx="93.4" cy="320.92" r="1.05"/>
<circle cx="93.4" cy="316.76" r="1.05"/>
<circle cx="93.4" cy="320.74" r="1.05"/>
<circle cx="93.4" cy="318.66" r="1.05"/>
<circle cx="93.4" cy="317.61" r="1.05"/>
<circle cx="93.4" cy="326.02" r="1.05"/>
<circle cx="93.4" cy="317.70" r="1.05"/>
<circle cx="93.4" cy="317.56" r="1.05"/>
<circle cx="93.4" cy="320.86" r="1.05"/>
<circle cx="93.4" cy="321.05" r="1.05"/>
<circle cx="93.4" cy="317.19" r="1.05"/>
<circle cx="93.4" cy="318.88" r="1.05"/>
<circle cx="93.4" cy="325.19" r="1.05"/>
<circle cx="93.4" cy="317.52" r="1.05"/>
<circle cx="93.4" cy="319.89" r="1.05"/>
<circle cx="93.4" cy="326.16" r="1.05"/>
<circle cx="93.4" cy="318.48" r="1.05"/>
<circle cx="93.4" cy="318.43" r="1.05"/>
<circle cx="93.4" cy="320.56" r="1.05"/>
<circle cx="93.4" cy="321.22" r="1.05"/>
<circle cx="93.4" cy="315.44" r="1.05"/>
<circle cx="93.4" cy="314.26" r="1.05"/>
<circle cx="93.4" cy="326.60" r="1.05"/>
<circle cx="93.4" cy="316.46" r="1.05"/>
<circle cx="93.4" cy="321.44" r="1.05"/>
<circle cx="93.4" cy="324.45" r="1.05"/>
<circle cx="93.4" cy="324.45" r="1.05"/>
<circle cx="93.4" cy="325.26" r="1.05"/>
<circle cx="93.4" cy="314.61" r="1.05"/>
<circle cx="93.4" cy="316.46" r="1.05"/>
<circle cx="93.4" cy="315.54" r="1.05"/>
<circle cx="93.4" cy="324.19" r="1.05"/>
<circle cx="93.4" cy="320.96" r="1.05"/>
<circle cx="93.4" cy="326.73" r="1.05"/>
<circle cx="93.4" cy="321.42" r="1.05"/>
<circle cx="93.4" cy="325.27" r="1.05"/>
<circle cx="93.4" cy="323.15" r="1.05"/>
<circle cx="93.4" cy="326.74" r="1.05"/>
<circle cx="93.4" cy="316.19" r="1.05"/>
<circle cx="93.4" cy="314.98" r="1.05"/>
<circle cx="93.4" cy="315.33" r="1.05"/>
<circle cx="93.4" cy="322.44" r="1.05"/>
<circle cx="93.4" cy="313.97" r="1.05"/>
<circle cx="93.4" cy="322.58" r="1.05"/>
<circle cx="93.4" cy="323.66" r="1.05"/>
<circle cx="93.4" cy="325.72" r="1.05"/>
<circle cx="93.4" cy="323.53" r="1.05"/>
<circle cx="93.4" cy="323.97" r="1.05"/>
<circle cx="93.4" cy="320.63" r="1.05"/>
<circle cx="93.4" cy="322.42" r="1.05"/>
<circle cx="93.4" cy="315.57" r="1.05"/>
<circle cx="93.4" cy="319.03" r="1.05"/>
<circle cx="93.4" cy="314.78" r="1.05"/>
<circle cx="93.4" cy="317.83" r="1.05"/>
<circle cx="93.4" cy="317.67" r="1.05"/>
<circle cx="93.4" cy="317.39" r="1.05"/>
<circle cx="93.4" cy="323.52" r="1.05"/>
<circle cx="93.4" cy="314.97" r="1.05"/>
<circle cx="93.4" cy="321.14" r="1.05"/>
<circle cx="93.4" cy="323.38" r="1.05"/>
<circle cx="93.4" cy="314.28" r="1.05"/>
<circle cx="93.4" cy="318.70" r="1.05"/>
<circle cx="93.4" cy="320.03" r="1.05"/>
<circle cx="93.4" cy="324.96" r="1.05"/>
<circle cx="93.4" cy="324.48" r="1.05"/>
<circle cx="93.4" cy="320.82" r="1.05"/>
<circle cx="93.4" cy="315.26" r="1.05"/>
<circle cx="93.4" cy="321.43" r="1.05"/>
<circle cx="93.4" cy="324.67" r="1.05"/>
<circle cx="93.4" cy="322.82" r="1.05"/>
<circle cx="93.4" cy="324.10" r="1.05"/>
<circle cx="93.4" cy="319.86" r="1.05"/>
<circle cx="93.4" cy="317.43" r="1.05"/>
<circle cx="93.4" cy="321.90" r="1.05"/>
<circle cx="93.4" cy="322.38" r="1.05"/>
<circle cx="93.4" cy="326.15" r="1.05"/>
<circle cx="93.4" cy="314.40" r="1.05"/>
<circle cx="93.4" cy="320.74" r="1.05"/>
<circle cx="93.4" cy="315.87" r="1.05"/>
<circle cx="93.4" cy="323.71" r="1.05"/>
<circle cx="93.4" cy="322.08" r="1.05"/>
<circle cx="93.4" cy="314.60" r="1.05"/>
<circle cx="93.4" cy="315.73" r="1.05"/>
<circle cx="93.4" cy="326.46" r="1.05"/>
<circle cx="93.4" cy="315.41" r="1.05"/>
<circle cx="93.4" cy="319.62" r="1.05"/>
<circle cx="93.4" cy="322.19" r="1.05"/>
<circle cx="93.4" cy="316.39" r="1.05"/>
<circle cx="93.4" cy="314.34" r="1.05"/>
<circle cx="93.4" cy="325.63" r="1.05"/>
<circle cx="93.4" cy="320.48" r="1.05"/>
<circle cx="93.4" cy="314.77" r="1.05"/>
<circle cx="93.4" cy="318.82" r="1.05"/>
<circle cx="93.4" cy="321.34" r="1.05"/>
<circle cx="93.4" cy="326.38" r="1.05"/>
<circle cx="93.4" cy="324.18" r="1.05"/>
<circle cx="93.4" cy="318.84" r="1.05"/>
<circle cx="93.4" cy="325.42" r="1.05"/>
<circle cx="93.4" cy="318.96" r="1.05"/>
<circle cx="93.4" cy="325.59" r="1.05"/>
<circle cx="93.4" cy="320.46" r="1.05"/>
<circle cx="93.4" cy="322.24" r="1.05"/>
<circle cx="93.4" cy="319.44" r="1.05"/>
<circle cx="93.4" cy="323.33" r="1.05"/>
<circle cx="93.4" cy="314.53" r="1.05"/>
<circle cx="93.4" cy="315.58" r="1.05"/>
<circle cx="93.4" cy="324.15" r="1.05"/>
<circle cx="93.4" cy="314.78" r="1.05"/>
<circle cx="93.4" cy="322.81" r="1.05"/>
<circle cx="93.4" cy="320.46" r="1.05"/>
<circle cx="93.4" cy="321.42" r="1.05"/>
<circle cx="93.4" cy="318.39" r="1.05"/>
<circle cx="93.4" cy="238.00" r="1.05"/>
<circle cx="93.4" cy="254.66" r="1.05"/>
<circle cx="93.4" cy="264.31" r="1.05"/>
<circle cx="93.4" cy="266.06" r="1.05"/>
<circle cx="93.4" cy="275.71" r="1.05"/>
<circle cx="93.4" cy="326.58" r="1.05"/>
<circle cx="93.4" cy="323.95" r="1.05"/>
<circle cx="93.4" cy="323.95" r="1.05"/>
<circle cx="93.4" cy="324.82" r="1.05"/>
<circle cx="93.4" cy="323.07" r="1.05"/>
<circle cx="93.4" cy="324.82" r="1.05"/>
<circle cx="93.4" cy="322.19" r="1.05"/>
<circle cx="93.4" cy="297.64" r="1.05"/>
<circle cx="93.4" cy="303.77" r="1.05"/>
<circle cx="93.4" cy="303.77" r="1.05"/>
<circle cx="93.4" cy="304.65" r="1.05"/>
<circle cx="93.4" cy="309.91" r="1.05"/>
<circle cx="93.4" cy="309.91" r="1.05"/>
<circle cx="93.4" cy="321.31" r="1.05"/>
<circle cx="93.4" cy="323.07" r="1.05"/>
<circle cx="93.4" cy="320.44" r="1.05"/>
<circle cx="93.4" cy="323.95" r="1.05"/>
<circle cx="93.4" cy="318.68" r="1.05"/>
<circle cx="93.4" cy="316.93" r="1.05"/>
<circle cx="93.4" cy="325.70" r="1.05"/>
<circle cx="93.4" cy="315.18" r="1.05"/>
</g>
<g fill="#a80632">
<path d="M199.00 329.08L201.80 329.08L200.40 326.48Z"/>
<path d="M199.00 330.35L201.80 330.35L200.40 327.75Z"/>
<path d="M199.00 325.72L201.80 325.72L200.40 323.12Z"/>
<path d="M199.00 323.56L201.80 323.56L200.40 320.96Z"/>
<path d="M199.00 324.69L201.80 324.69L200.40 322.09Z"/>
<path d="M199.00 330.05L201.80 330.05L200.40 327.45Z"/>
<path d="M199.00 318.81L201.80 318.81L200.40 316.21Z"/>
<path d="M199.00 327.93L201.80 327.93L200.40 325.33Z"/>
<path d="M199.00 317.04L201.80 317.04L200.40 314.44Z"/>
<path d="M199.00 325.25L201.80 325.25L200.40 322.65Z"/>
<path d="M199.00 330.79L201.80 330.79L200.40 328.19Z"/>
<path d="M199.00 326.90L201.80 326.90L200.40 324.30Z"/>
<path d="M199.00 329.62L201.80 329.62L200.40 327.02Z"/>
<path d="M199.00 318.97L201.80 318.97L200.40 316.37Z"/>
<path d="M199.00 322.45L201.80 322.45L200.40 319.85Z"/>
<path d="M199.00 325.62L201.80 325.62L200.40 323.02Z"/>
<path d="M199.00 330.52L201.80 330.52L200.40 327.92Z"/>
<path d="M199.00 328.20L201.80 328.20L200.40 325.60Z"/>
<path d="M199.00 324.77L201.80 324.77L200.40 322.17Z"/>
<path d="M199.00 322.39L201.80 322.39L200.40 319.79Z"/>
<path d="M199.00 326.74L201.80 326.74L200.40 324.14Z"/>
<path d="M199.00 320.70L201.80 320.70L200.40 318.10Z"/>
<path d="M199.00 322.56L201.80 322.56L200.40 319.96Z"/>
<path d="M199.00 318.10L201.80 318.10L200.40 315.50Z"/>
<path d="M199.00 326.92L201.80 326.92L200.40 324.32Z"/>
<path d="M199.00 329.61L201.80 329.61L200.40 327.01Z"/>
<path d="M199.00 319.84L201.80 319.84L200.40 317.24Z"/>
<path d="M199.00 323.84L201.80 323.84L200.40 321.24Z"/>
<path d="M199.00 321.16L201.80 321.16L200.40 318.56Z"/>
<path d="M199.00 322.58L201.80 322.58L200.40 319.98Z"/>
<path d="M199.00 326.52L201.80 326.52L200.40 323.92Z"/>
<path d="M199.00 322.26L201.80 322.26L200.40 319.66Z"/>
<path d="M199.00 324.34L201.80 324.34L200.40 321.74Z"/>
<path d="M199.00 317.08L201.80 317.08L200.40 314.48Z"/>
<path d="M199.00 321.22L201.80 321.22L200.40 318.62Z"/>
<path d="M199.00 320.66L201.80 320.66L200.40 318.06Z"/>
<path d="M199.00 316.37L201.80 316.37L200.40 313.77Z"/>
<path d="M199.00 326.98L201.80 326.98L200.40 324.38Z"/>
<path d="M199.00 321.15L201.80 321.15L200.40 318.55Z"/>
<path d="M199.00 324.26L201.80 324.26L200.40 321.66Z"/>
<path d="M199.00 329.62L201.80 329.62L200.40 327.02Z"/>
<path d="M199.00 319.68L201.80 319.68L200.40 317.08Z"/>
<path d="M199.00 327.55L201.80 327.55L200.40 324.95Z"/>
<path d="M199.00 318.15L201.80 318.15L200.40 315.55Z"/>
<path d="M199.00 324.45L201.80 324.45L200.40 321.85Z"/>
<path d="M199.00 317.98L201.80 317.98L200.40 315.38Z"/>
<path d="M199.00 318.27L201.80 318.27L200.40 315.67Z"/>
<path d="M199.00 324.97L201.80 324.97L200.40 322.37Z"/>
<path d="M199.00 317.97L201.80 317.97L200.40 315.37Z"/>
<path d="M199.00 329.08L201.80 329.08L200.40 326.48Z"/>
<path d="M199.00 327.79L201.80 327.79L200.40 325.19Z"/>
<path d="M199.00 323.91L201.80 323.91L200.40 321.31Z"/>
<path d="M199.00 327.31L201.80 327.31L200.40 324.71Z"/>
<path d="M199.00 324.91L201.80 324.91L200.40 322.31Z"/>
<path d="M199.00 322.68L201.80 322.68L200.40 320.08Z"/>
<path d="M199.00 320.83L201.80 320.83L200.40 318.23Z"/>
<path d="M199.00 321.92L201.80 321.92L200.40 319.32Z"/>
<path d="M199.00 330.67L201.80 330.67L200.40 328.07Z"/>
<path d="M199.00 319.50L201.80 319.50L200.40 316.90Z"/>
<path d="M199.00 319.24L201.80 319.24L200.40 316.64Z"/>
<path d="M199.00 325.21L201.80 325.21L200.40 322.61Z"/>
<path d="M199.00 321.66L201.80 321.66L200.40 319.06Z"/>
<path d="M199.00 330.44L201.80 330.44L200.40 327.84Z"/>
<path d="M199.00 328.90L201.80 328.90L200.40 326.30Z"/>
<path d="M199.00 330.69L201.80 330.69L200.40 328.09Z"/>
<path d="M199.00 329.07L201.80 329.07L200.40 326.47Z"/>
<path d="M199.00 325.76L201.80 325.76L200.40 323.16Z"/>
<path d="M199.00 318.12L201.80 318.12L200.40 315.52Z"/>
<path d="M199.00 329.12L201.80 329.12L200.40 326.52Z"/>
<path d="M199.00 326.00L201.80 326.00L200.40 323.40Z"/>
<path d="M199.00 329.53L201.80 329.53L200.40 326.93Z"/>
<path d="M199.00 316.37L201.80 316.37L200.40 313.77Z"/>
<path d="M199.00 323.92L201.80 323.92L200.40 321.32Z"/>
<path d="M199.00 329.87L201.80 329.87L200.40 327.27Z"/>
<path d="M199.00 327.28L201.80 327.28L200.40 324.68Z"/>
<path d="M199.00 328.91L201.80 328.91L200.40 326.31Z"/>
<path d="M199.00 317.00L201.80 317.00L200.40 314.40Z"/>
<path d="M199.00 329.15L201.80 329.15L200.40 326.55Z"/>
<path d="M199.00 331.12L201.80 331.12L200.40 328.52Z"/>
<path d="M199.00 316.59L201.80 316.59L200.40 313.99Z"/>
<path d="M199.00 320.74L201.80 320.74L200.40 318.14Z"/>
<path d="M199.00 325.70L201.80 325.70L200.40 323.10Z"/>
<path d="M199.00 319.63L201.80 319.63L200.40 317.03Z"/>
<path d="M199.00 319.52L201.80 319.52L200.40 316.92Z"/>
<path d="M199.00 327.93L201.80 327.93L200.40 325.33Z"/>
<path d="M199.00 316.50L201.80 316.50L200.40 313.90Z"/>
<path d="M199.00 319.12L201.80 319.12L200.40 316.52Z"/>
<path d="M199.00 320.10L201.80 320.10L200.40 317.50Z"/>
<path d="M199.00 323.41L201.80 323.41L200.40 320.81Z"/>
<path d="M199.00 331.09L201.80 331.09L200.40 328.49Z"/>
<path d="M199.00 327.05L201.80 327.05L200.40 324.45Z"/>
<path d="M199.00 320.80L201.80 320.80L200.40 318.20Z"/>
<path d="M199.00 324.48L201.80 324.48L200.40 321.88Z"/>
<path d="M199.00 316.45L201.80 316.45L200.40 313.85Z"/>
<path d="M199.00 325.74L201.80 325.74L200.40 323.14Z"/>
<path d="M199.00 327.87L201.80 327.87L200.40 325.27Z"/>
<path d="M199.00 328.23L201.80 328.23L200.40 325.63Z"/>
<path d="M199.00 317.73L201.80 317.73L200.40 315.13Z"/>
<path d="M199.00 323.99L201.80 323.99L200.40 321.39Z"/>
<path d="M199.00 319.21L201.80 319.21L200.40 316.61Z"/>
<path d="M199.00 321.27L201.80 321.27L200.40 318.67Z"/>
<path d="M199.00 319.47L201.80 319.47L200.40 316.87Z"/>
<path d="M199.00 324.01L201.80 324.01L200.40 321.41Z"/>
<path d="M199.00 319.37L201.80 319.37L200.40 316.77Z"/>
<path d="M199.00 319.20L201.80 319.20L200.40 316.60Z"/>
<path d="M199.00 325.26L201.80 325.26L200.40 322.66Z"/>
<path d="M199.00 317.06L201.80 317.06L200.40 314.46Z"/>
<path d="M199.00 328.77L201.80 328.77L200.40 326.17Z"/>
<path d="M199.00 329.07L201.80 329.07L200.40 326.47Z"/>
<path d="M199.00 319.11L201.80 319.11L200.40 316.51Z"/>
<path d="M199.00 318.82L201.80 318.82L200.40 316.22Z"/>
<path d="M199.00 321.32L201.80 321.32L200.40 318.72Z"/>
<path d="M199.00 322.95L201.80 322.95L200.40 320.35Z"/>
<path d="M199.00 331.35L201.80 331.35L200.40 328.75Z"/>
<path d="M199.00 321.43L201.80 321.43L200.40 318.83Z"/>
<path d="M199.00 317.25L201.80 317.25L200.40 314.65Z"/>
<path d="M199.00 318.15L201.80 318.15L200.40 315.55Z"/>
<path d="M199.00 328.12L201.80 328.12L200.40 325.52Z"/>
<path d="M199.00 326.84L201.80 326.84L200.40 324.24Z"/>
<path d="M199.00 322.38L201.80 322.38L200.40 319.78Z"/>
<path d="M199.00 324.91L201.80 324.91L200.40 322.31Z"/>
<path d="M199.00 317.59L201.80 317.59L200.40 314.99Z"/>
<path d="M199.00 324.31L201.80 324.31L200.40 321.71Z"/>
<path d="M199.00 317.68L201.80 317.68L200.40 315.08Z"/>
<path d="M199.00 317.48L201.80 317.48L200.40 314.88Z"/>
<path d="M199.00 323.20L201.80 323.20L200.40 320.60Z"/>
<path d="M199.00 331.27L201.80 331.27L200.40 328.67Z"/>
<path d="M199.00 328.56L201.80 328.56L200.40 325.96Z"/>
<path d="M199.00 319.22L201.80 319.22L200.40 316.62Z"/>
<path d="M199.00 324.08L201.80 324.08L200.40 321.48Z"/>
<path d="M199.00 322.83L201.80 322.83L200.40 320.23Z"/>
<path d="M199.00 323.41L201.80 323.41L200.40 320.81Z"/>
<path d="M199.00 319.44L201.80 319.44L200.40 316.84Z"/>
<path d="M199.00 322.77L201.80 322.77L200.40 320.17Z"/>
<path d="M199.00 327.09L201.80 327.09L200.40 324.49Z"/>
<path d="M199.00 323.56L201.80 323.56L200.40 320.96Z"/>
<path d="M199.00 319.80L201.80 319.80L200.40 317.20Z"/>
<path d="M199.00 324.54L201.80 324.54L200.40 321.94Z"/>
<path d="M199.00 323.60L201.80 323.60L200.40 321.00Z"/>
<path d="M199.00 320.79L201.80 320.79L200.40 318.19Z"/>
<path d="M199.00 323.18L201.80 323.18L200.40 320.58Z"/>
<path d="M199.00 317.13L201.80 317.13L200.40 314.53Z"/>
<path d="M199.00 318.08L201.80 318.08L200.40 315.48Z"/>
<path d="M199.00 327.36L201.80 327.36L200.40 324.76Z"/>
<path d="M199.00 317.10L201.80 317.10L200.40 314.50Z"/>
<path d="M199.00 329.30L201.80 329.30L200.40 326.70Z"/>
<path d="M199.00 324.55L201.80 324.55L200.40 321.95Z"/>
<path d="M199.00 327.66L201.80 327.66L200.40 325.06Z"/>
<path d="M199.00 321.14L201.80 321.14L200.40 318.54Z"/>
<path d="M199.00 317.78L201.80 317.78L200.40 315.18Z"/>
<path d="M199.00 320.45L201.80 320.45L200.40 317.85Z"/>
<path d="M199.00 329.20L201.80 329.20L200.40 326.60Z"/>
<path d="M199.00 316.75L201.80 316.75L200.40 314.15Z"/>
<path d="M199.00 316.97L201.80 316.97L200.40 314.37Z"/>
<path d="M199.00 323.87L201.80 323.87L200.40 321.27Z"/>
<path d="M199.00 318.73L201.80 318.73L200.40 316.13Z"/>
<path d="M199.00 324.71L201.80 324.71L200.40 322.11Z"/>
<path d="M199.00 326.13L201.80 326.13L200.40 323.53Z"/>
<path d="M199.00 326.45L201.80 326.45L200.40 323.85Z"/>
<path d="M199.00 331.26L201.80 331.26L200.40 328.66Z"/>
<path d="M199.00 324.58L201.80 324.58L200.40 321.98Z"/>
<path d="M199.00 326.25L201.80 326.25L200.40 323.65Z"/>
<path d="M199.00 323.49L201.80 323.49L200.40 320.89Z"/>
<path d="M199.00 316.50L201.80 316.50L200.40 313.90Z"/>
<path d="M199.00 316.69L201.80 316.69L200.40 314.09Z"/>
<path d="M199.00 327.26L201.80 327.26L200.40 324.66Z"/>
<path d="M199.00 319.52L201.80 319.52L200.40 316.92Z"/>
<path d="M199.00 329.42L201.80 329.42L200.40 326.82Z"/>
<path d="M199.00 317.57L201.80 317.57L200.40 314.97Z"/>
<path d="M199.00 327.38L201.80 327.38L200.40 324.78Z"/>
<path d="M199.00 317.46L201.80 317.46L200.40 314.86Z"/>
<path d="M199.00 320.68L201.80 320.68L200.40 318.08Z"/>
<path d="M199.00 330.61L201.80 330.61L200.40 328.01Z"/>
<path d="M199.00 324.81L201.80 324.81L200.40 322.21Z"/>
<path d="M199.00 317.18L201.80 317.18L200.40 314.58Z"/>
<path d="M199.00 319.19L201.80 319.19L200.40 316.59Z"/>
<path d="M199.00 318.38L201.80 318.38L200.40 315.78Z"/>
<path d="M199.00 318.28L201.80 318.28L200.40 315.68Z"/>
<path d="M199.00 326.13L201.80 326.13L200.40 323.53Z"/>
<path d="M199.00 317.35L201.80 317.35L200.40 314.75Z"/>
<path d="M199.00 329.42L201.80 329.42L200.40 326.82Z"/>
<path d="M199.00 327.69L201.80 327.69L200.40 325.09Z"/>
<path d="M199.00 328.90L201.80 328.90L200.40 326.30Z"/>
<path d="M199.00 328.26L201.80 328.26L200.40 325.66Z"/>
<path d="M199.00 326.66L201.80 326.66L200.40 324.06Z"/>
<path d="M199.00 326.89L201.80 326.89L200.40 324.29Z"/>
<path d="M199.00 328.65L201.80 328.65L200.40 326.05Z"/>
<path d="M199.00 331.28L201.80 331.28L200.40 328.68Z"/>
<path d="M199.00 331.33L201.80 331.33L200.40 328.73Z"/>
<path d="M199.00 322.91L201.80 322.91L200.40 320.31Z"/>
<path d="M199.00 324.06L201.80 324.06L200.40 321.46Z"/>
<path d="M199.00 329.80L201.80 329.80L200.40 327.20Z"/>
<path d="M199.00 324.70L201.80 324.70L200.40 322.10Z"/>
<path d="M199.00 318.70L201.80 318.70L200.40 316.10Z"/>
<path d="M199.00 323.58L201.80 323.58L200.40 320.98Z"/>
<path d="M199.00 316.53L201.80 316.53L200.40 313.93Z"/>
<path d="M199.00 318.73L201.80 318.73L200.40 316.13Z"/>
<path d="M199.00 321.64L201.80 321.64L200.40 319.04Z"/>
<path d="M199.00 326.00L201.80 326.00L200.40 323.40Z"/>
<path d="M199.00 329.41L201.80 329.41L200.40 326.81Z"/>
<path d="M199.00 320.08L201.80 320.08L200.40 317.48Z"/>
<path d="M199.00 328.88L201.80 328.88L200.40 326.28Z"/>
<path d="M199.00 318.60L201.80 318.60L200.40 316.00Z"/>
<path d="M199.00 321.13L201.80 321.13L200.40 318.53Z"/>
<path d="M199.00 327.63L201.80 327.63L200.40 325.03Z"/>
<path d="M199.00 324.29L201.80 324.29L200.40 321.69Z"/>
<path d="M199.00 324.50L201.80 324.50L200.40 321.90Z"/>
<path d="M199.00 316.84L201.80 316.84L200.40 314.24Z"/>
<path d="M199.00 322.97L201.80 322.97L200.40 320.37Z"/>
<path d="M199.00 316.78L201.80 316.78L200.40 314.18Z"/>
<path d="M199.00 325.86L201.80 325.86L200.40 323.26Z"/>
<path d="M199.00 325.48L201.80 325.48L200.40 322.88Z"/>
<path d="M199.00 323.63L201.80 323.63L200.40 321.03Z"/>
<path d="M199.00 323.61L201.80 323.61L200.40 321.01Z"/>
<path d="M199.00 327.29L201.80 327.29L200.40 324.69Z"/>
<path d="M199.00 325.20L201.80 325.20L200.40 322.60Z"/>
<path d="M199.00 331.20L201.80 331.20L200.40 328.60Z"/>
<path d="M199.00 327.78L201.80 327.78L200.40 325.18Z"/>
<path d="M199.00 323.24L201.80 323.24L200.40 320.64Z"/>
<path d="M199.00 321.32L201.80 321.32L200.40 318.72Z"/>
<path d="M199.00 318.05L201.80 318.05L200.40 315.45Z"/>
<path d="M199.00 326.33L201.80 326.33L200.40 323.73Z"/>
<path d="M199.00 329.10L201.80 329.10L200.40 326.50Z"/>
<path d="M199.00 321.53L201.80 321.53L200.40 318.93Z"/>
<path d="M199.00 318.69L201.80 318.69L200.40 316.09Z"/>
<path d="M199.00 321.77L201.80 321.77L200.40 319.17Z"/>
<path d="M199.00 319.03L201.80 319.03L200.40 316.43Z"/>
<path d="M199.00 323.32L201.80 323.32L200.40 320.72Z"/>
<path d="M199.00 318.70L201.80 318.70L200.40 316.10Z"/>
<path d="M199.00 318.82L201.80 318.82L200.40 316.22Z"/>
<path d="M199.00 317.85L201.80 317.85L200.40 315.25Z"/>
<path d="M199.00 320.78L201.80 320.78L200.40 318.18Z"/>
<path d="M199.00 331.05L201.80 331.05L200.40 328.45Z"/>
<path d="M199.00 325.80L201.80 325.80L200.40 323.20Z"/>
<path d="M199.00 318.68L201.80 318.68L200.40 316.08Z"/>
<path d="M199.00 321.77L201.80 321.77L200.40 319.17Z"/>
<path d="M199.00 320.98L201.80 320.98L200.40 318.38Z"/>
<path d="M199.00 331.55L201.80 331.55L200.40 328.95Z"/>
<path d="M199.00 319.97L201.80 319.97L200.40 317.37Z"/>
<path d="M199.00 323.15L201.80 323.15L200.40 320.55Z"/>
<path d="M199.00 330.47L201.80 330.47L200.40 327.87Z"/>
<path d="M199.00 327.48L201.80 327.48L200.40 324.88Z"/>
<path d="M199.00 327.26L201.80 327.26L200.40 324.66Z"/>
<path d="M199.00 328.21L201.80 328.21L200.40 325.61Z"/>
<path d="M199.00 316.63L201.80 316.63L200.40 314.03Z"/>
<path d="M199.00 325.47L201.80 325.47L200.40 322.87Z"/>
<path d="M199.00 320.93L201.80 320.93L200.40 318.33Z"/>
<path d="M199.00 321.92L201.80 321.92L200.40 319.32Z"/>
<path d="M199.00 330.27L201.80 330.27L200.40 327.67Z"/>
<path d="M199.00 327.45L201.80 327.45L200.40 324.85Z"/>
<path d="M199.00 326.67L201.80 326.67L200.40 324.07Z"/>
<path d="M199.00 331.39L201.80 331.39L200.40 328.79Z"/>
<path d="M199.00 327.22L201.80 327.22L200.40 324.62Z"/>
<path d="M199.00 320.80L201.80 320.80L200.40 318.20Z"/>
<path d="M199.00 326.88L201.80 326.88L200.40 324.28Z"/>
<path d="M199.00 324.21L201.80 324.21L200.40 321.61Z"/>
<path d="M199.00 329.60L201.80 329.60L200.40 327.00Z"/>
<path d="M199.00 328.31L201.80 328.31L200.40 325.71Z"/>
<path d="M199.00 317.21L201.80 317.21L200.40 314.61Z"/>
<path d="M199.00 324.30L201.80 324.30L200.40 321.70Z"/>
<path d="M199.00 316.74L201.80 316.74L200.40 314.14Z"/>
<path d="M199.00 327.22L201.80 327.22L200.40 324.62Z"/>
<path d="M199.00 317.07L201.80 317.07L200.40 314.47Z"/>
<path d="M199.00 322.45L201.80 322.45L200.40 319.85Z"/>
<path d="M199.00 323.32L201.80 323.32L200.40 320.72Z"/>
<path d="M199.00 329.37L201.80 329.37L200.40 326.77Z"/>
<path d="M199.00 323.55L201.80 323.55L200.40 320.95Z"/>
<path d="M199.00 320.63L201.80 320.63L200.40 318.03Z"/>
<path d="M199.00 317.78L201.80 317.78L200.40 315.18Z"/>
<path d="M199.00 331.17L201.80 331.17L200.40 328.57Z"/>
<path d="M199.00 323.80L201.80 323.80L200.40 321.20Z"/>
<path d="M199.00 326.70L201.80 326.70L200.40 324.10Z"/>
<path d="M199.00 326.05L201.80 326.05L200.40 323.45Z"/>
<path d="M199.00 318.62L201.80 318.62L200.40 316.02Z"/>
<path d="M199.00 319.93L201.80 319.93L200.40 317.33Z"/>
<path d="M199.00 329.57L201.80 329.57L200.40 326.97Z"/>
<path d="M199.00 320.49L201.80 320.49L200.40 317.89Z"/>
<path d="M199.00 326.89L201.80 326.89L200.40 324.29Z"/>
<path d="M199.00 325.31L201.80 325.31L200.40 322.71Z"/>
<path d="M199.00 322.34L201.80 322.34L200.40 319.74Z"/>
<path d="M199.00 324.77L201.80 324.77L200.40 322.17Z"/>
<path d="M199.00 330.76L201.80 330.76L200.40 328.16Z"/>
<path d="M199.00 318.70L201.80 318.70L200.40 316.10Z"/>
<path d="M199.00 317.21L201.80 317.21L200.40 314.61Z"/>
<path d="M199.00 327.26L201.80 327.26L200.40 324.66Z"/>
<path d="M199.00 328.46L201.80 328.46L200.40 325.86Z"/>
<path d="M199.00 316.92L201.80 316.92L200.40 314.32Z"/>
<path d="M199.00 319.03L201.80 319.03L200.40 316.43Z"/>
<path d="M199.00 317.54L201.80 317.54L200.40 314.94Z"/>
<path d="M199.00 322.94L201.80 322.94L200.40 320.34Z"/>
<path d="M199.00 330.74L201.80 330.74L200.40 328.14Z"/>
<path d="M199.00 324.42L201.80 324.42L200.40 321.82Z"/>
<path d="M199.00 321.51L201.80 321.51L200.40 318.91Z"/>
<path d="M199.00 330.75L201.80 330.75L200.40 328.15Z"/>
<path d="M199.00 329.46L201.80 329.46L200.40 326.86Z"/>
<path d="M199.00 326.06L201.80 326.06L200.40 323.46Z"/>
<path d="M199.00 320.11L201.80 320.11L200.40 317.51Z"/>
<path d="M199.00 327.35L201.80 327.35L200.40 324.75Z"/>
<path d="M199.00 326.72L201.80 326.72L200.40 324.12Z"/>
<path d="M199.00 325.28L201.80 325.28L200.40 322.68Z"/>
<path d="M199.00 328.90L201.80 328.90L200.40 326.30Z"/>
<path d="M199.00 317.65L201.80 317.65L200.40 315.05Z"/>
<path d="M199.00 327.98L201.80 327.98L200.40 325.38Z"/>
<path d="M199.00 316.33L201.80 316.33L200.40 313.73Z"/>
<path d="M199.00 329.26L201.80 329.26L200.40 326.66Z"/>
<path d="M199.00 330.05L201.80 330.05L200.40 327.45Z"/>
<path d="M199.00 330.04L201.80 330.04L200.40 327.44Z"/>
<path d="M199.00 327.38L201.80 327.38L200.40 324.78Z"/>
<path d="M199.00 317.92L201.80 317.92L200.40 315.32Z"/>
<path d="M199.00 325.00L201.80 325.00L200.40 322.40Z"/>
<path d="M199.00 323.32L201.80 323.32L200.40 320.72Z"/>
<path d="M199.00 326.14L201.80 326.14L200.40 323.54Z"/>
<path d="M199.00 327.08L201.80 327.08L200.40 324.48Z"/>
<path d="M199.00 329.48L201.80 329.48L200.40 326.88Z"/>
<path d="M199.00 321.73L201.80 321.73L200.40 319.13Z"/>
<path d="M199.00 328.05L201.80 328.05L200.40 325.45Z"/>
<path d="M199.00 327.54L201.80 327.54L200.40 324.94Z"/>
<path d="M199.00 324.50L201.80 324.50L200.40 321.90Z"/>
<path d="M199.00 318.49L201.80 318.49L200.40 315.89Z"/>
<path d="M199.00 331.22L201.80 331.22L200.40 328.62Z"/>
<path d="M199.00 320.55L201.80 320.55L200.40 317.95Z"/>
<path d="M199.00 324.08L201.80 324.08L200.40 321.48Z"/>
<path d="M199.00 331.62L201.80 331.62L200.40 329.02Z"/>
<path d="M199.00 317.35L201.80 317.35L200.40 314.75Z"/>
<path d="M199.00 318.39L201.80 318.39L200.40 315.79Z"/>
<path d="M199.00 327.54L201.80 327.54L200.40 324.94Z"/>
<path d="M199.00 329.02L201.80 329.02L200.40 326.42Z"/>
<path d="M199.00 320.95L201.80 320.95L200.40 318.35Z"/>
<path d="M199.00 320.36L201.80 320.36L200.40 317.76Z"/>
<path d="M199.00 319.73L201.80 319.73L200.40 317.13Z"/>
<path d="M199.00 322.91L201.80 322.91L200.40 320.31Z"/>
<path d="M199.00 319.47L201.80 319.47L200.40 316.87Z"/>
<path d="M199.00 317.44L201.80 317.44L200.40 314.84Z"/>
<path d="M199.00 326.68L201.80 326.68L200.40 324.08Z"/>
<path d="M199.00 327.48L201.80 327.48L200.40 324.88Z"/>
<path d="M199.00 320.70L201.80 320.70L200.40 318.10Z"/>
<path d="M199.00 330.39L201.80 330.39L200.40 327.79Z"/>
<path d="M199.00 322.43L201.80 322.43L200.40 319.83Z"/>
<path d="M199.00 327.92L201.80 327.92L200.40 325.32Z"/>
<path d="M199.00 331.42L201.80 331.42L200.40 328.82Z"/>
<path d="M199.00 324.27L201.80 324.27L200.40 321.67Z"/>
<path d="M199.00 321.51L201.80 321.51L200.40 318.91Z"/>
<path d="M199.00 324.05L201.80 324.05L200.40 321.45Z"/>
<path d="M199.00 327.55L201.80 327.55L200.40 324.95Z"/>
<path d="M199.00 311.95L201.80 311.95L200.40 309.35Z"/>
<path d="M199.00 316.14L201.80 316.14L200.40 313.54Z"/>
<path d="M199.00 312.14L201.80 312.14L200.40 309.54Z"/>
<path d="M199.00 306.13L201.80 306.13L200.40 303.53Z"/>
<path d="M199.00 300.27L201.80 300.27L200.40 297.67Z"/>
<path d="M199.00 244.36L201.80 244.36L200.40 241.76Z"/>
<path d="M199.00 327.68L201.80 327.68L200.40 325.08Z"/>
<path d="M199.00 263.66L201.80 263.66L200.40 261.06Z"/>
<path d="M199.00 289.09L201.80 289.09L200.40 286.49Z"/>
<path d="M199.00 322.42L201.80 322.42L200.40 319.81Z"/>
<path d="M199.00 235.59L201.80 235.59L200.40 232.99Z"/>
<path d="M199.00 263.66L201.80 263.66L200.40 261.06Z"/>
<path d="M199.00 274.18L201.80 274.18L200.40 271.58Z"/>
<path d="M199.00 279.44L201.80 279.44L200.40 276.84Z"/>
<path d="M199.00 282.95L201.80 282.95L200.40 280.35Z"/>
<path d="M199.00 285.14L201.80 285.14L200.40 282.54Z"/>
<path d="M199.00 290.49L201.80 290.49L200.40 287.89Z"/>
<path d="M199.00 309.26L201.80 309.26L200.40 306.66Z"/>
<path d="M199.00 318.03L201.80 318.03L200.40 315.43Z"/>
<path d="M199.00 300.49L201.80 300.49L200.40 297.89Z"/>
<path d="M199.00 322.42L201.80 322.42L200.40 319.81Z"/>
<path d="M199.00 302.24L201.80 302.24L200.40 299.64Z"/>
<path d="M199.00 325.05L201.80 325.05L200.40 322.45Z"/>
<path d="M199.00 299.61L201.80 299.61L200.40 297.01Z"/>
<path d="M199.00 301.37L201.80 301.37L200.40 298.77Z"/>
<path d="M199.00 303.12L201.80 303.12L200.40 300.52Z"/>
<path d="M199.00 304.88L201.80 304.88L200.40 302.27Z"/>
<path d="M199.00 307.51L201.80 307.51L200.40 304.91Z"/>
<path d="M199.00 300.49L201.80 300.49L200.40 297.89Z"/>
<path d="M199.00 309.26L201.80 309.26L200.40 306.66Z"/>
<path d="M199.00 311.01L201.80 311.01L200.40 308.41Z"/>
</g>
<g stroke="#1a1a1a" stroke-width="1.5" fill="none">
<path d="M56.9 231.5V330.1H251.3"/>
<path d="M53.4 325.70H56.9"/>
<path d="M53.4 303.77H56.9"/>
<path d="M53.4 281.85H56.9"/>
<path d="M53.4 259.93H56.9"/>
<path d="M53.4 238.00H56.9"/>
<path d="M93.4 330.1v3.6M200.4 330.1v3.6"/>
</g>
<text x="50.3" y="134.50" font-size="8.7" font-weight="normal" text-anchor="end" fill="#222" stroke="#222" stroke-width="0.18">0</text>
<text x="50.3" y="112.25" font-size="8.7" font-weight="normal" text-anchor="end" fill="#222" stroke="#222" stroke-width="0.18">25</text>
<text x="50.3" y="90.00" font-size="8.7" font-weight="normal" text-anchor="end" fill="#222" stroke="#222" stroke-width="0.18">50</text>
<text x="50.3" y="67.75" font-size="8.7" font-weight="normal" text-anchor="end" fill="#222" stroke="#222" stroke-width="0.18">75</text>
<text x="50.3" y="45.50" font-size="8.7" font-weight="normal" text-anchor="end" fill="#222" stroke="#222" stroke-width="0.18">100</text>
<text x="310.40000000000003" y="134.90" font-size="8.7" font-weight="normal" text-anchor="end" fill="#222" stroke="#222" stroke-width="0.18">0</text>
<text x="310.40000000000003" y="112.73" font-size="8.7" font-weight="normal" text-anchor="end" fill="#222" stroke="#222" stroke-width="0.18">25</text>
<text x="310.40000000000003" y="90.55" font-size="8.7" font-weight="normal" text-anchor="end" fill="#222" stroke="#222" stroke-width="0.18">50</text>
<text x="310.40000000000003" y="68.38" font-size="8.7" font-weight="normal" text-anchor="end" fill="#222" stroke="#222" stroke-width="0.18">75</text>
<text x="310.40000000000003" y="46.20" font-size="8.7" font-weight="normal" text-anchor="end" fill="#222" stroke="#222" stroke-width="0.18">100</text>
<text x="50.199999999999996" y="327.70" font-size="8.7" font-weight="normal" text-anchor="end" fill="#222" stroke="#222" stroke-width="0.18">0</text>
<text x="50.199999999999996" y="305.77" font-size="8.7" font-weight="normal" text-anchor="end" fill="#222" stroke="#222" stroke-width="0.18">25</text>
<text x="50.199999999999996" y="283.85" font-size="8.7" font-weight="normal" text-anchor="end" fill="#222" stroke="#222" stroke-width="0.18">50</text>
<text x="50.199999999999996" y="261.93" font-size="8.7" font-weight="normal" text-anchor="end" fill="#222" stroke="#222" stroke-width="0.18">75</text>
<text x="50.199999999999996" y="240.00" font-size="8.7" font-weight="normal" text-anchor="end" fill="#222" stroke="#222" stroke-width="0.18">100</text>
<text x="94.4" y="150.7" font-size="9.5" font-weight="normal" text-anchor="middle" fill="#222" textLength="16.8" lengthAdjust="spacingAndGlyphs" stroke="#222" stroke-width="0.18">SRA</text>
<text x="203.3" y="150.7" font-size="9.5" font-weight="normal" text-anchor="middle" fill="#222" textLength="16.4" lengthAdjust="spacingAndGlyphs" stroke="#222" stroke-width="0.18">PEA</text>
<text x="354.6" y="150.7" font-size="9.5" font-weight="normal" text-anchor="middle" fill="#222" textLength="16.8" lengthAdjust="spacingAndGlyphs" stroke="#222" stroke-width="0.18">SRA</text>
<text x="462.6" y="150.7" font-size="9.5" font-weight="normal" text-anchor="middle" fill="#222" textLength="16.4" lengthAdjust="spacingAndGlyphs" stroke="#222" stroke-width="0.18">PEA</text>
<text x="93.6" y="344.2" font-size="9.5" font-weight="normal" text-anchor="middle" fill="#222" textLength="16.8" lengthAdjust="spacingAndGlyphs" stroke="#222" stroke-width="0.18">SRA</text>
<text x="200.6" y="344.2" font-size="9.5" font-weight="normal" text-anchor="middle" fill="#222" textLength="16.4" lengthAdjust="spacingAndGlyphs" stroke="#222" stroke-width="0.18">PEA</text>
<text x="90.1" y="31.9" font-size="8.3" font-weight="normal" text-anchor="start" fill="#222" textLength="16.6" lengthAdjust="spacingAndGlyphs" stroke="#222" stroke-width="0.18">69%</text>
<text x="196" y="31.9" font-size="8.3" font-weight="normal" text-anchor="start" fill="#222" textLength="15.8" lengthAdjust="spacingAndGlyphs" stroke="#222" stroke-width="0.18">88%</text>
<text x="351.7" y="36.8" font-size="8.3" font-weight="normal" text-anchor="start" fill="#222" textLength="11.3" lengthAdjust="spacingAndGlyphs" stroke="#222" stroke-width="0.18">5%</text>
<text x="452.7" y="36.8" font-size="8.3" font-weight="normal" text-anchor="start" fill="#222" textLength="16.3" lengthAdjust="spacingAndGlyphs" stroke="#222" stroke-width="0.18">46%</text>
<text x="89.4" y="227.6" font-size="8.3" font-weight="normal" text-anchor="start" fill="#222" textLength="11.3" lengthAdjust="spacingAndGlyphs" stroke="#222" stroke-width="0.18">1%</text>
<text x="194.4" y="227.5" font-size="8.3" font-weight="normal" text-anchor="start" fill="#222" textLength="11.3" lengthAdjust="spacingAndGlyphs" stroke="#222" stroke-width="0.18">0%</text>
<text x="223.8" y="131.6" font-size="8.6" font-weight="bold" text-anchor="start" fill="#000" textLength="20.2" lengthAdjust="spacingAndGlyphs" stroke="#000" stroke-width="0.3">n=17</text>
<text x="481.4" y="133.9" font-size="8.6" font-weight="bold" text-anchor="start" fill="#000" textLength="15.0" lengthAdjust="spacingAndGlyphs" stroke="#000" stroke-width="0.3">n=9</text>
<text x="215.1" y="327.3" font-size="8.6" font-weight="bold" text-anchor="start" fill="#000" textLength="24.7" lengthAdjust="spacingAndGlyphs" stroke="#000" stroke-width="0.3">n=383</text>
<text x="17.2" y="87.2" font-size="10.2" font-weight="normal" text-anchor="middle" fill="#222" textLength="74.0" lengthAdjust="spacingAndGlyphs" transform="rotate(-90 17.2 87.2)" stroke="#222" stroke-width="0.18">Serotonin release or</text>
<text x="30.1" y="87.2" font-size="10.2" font-weight="normal" text-anchor="middle" fill="#222" textLength="91.5" lengthAdjust="spacingAndGlyphs" transform="rotate(-90 30.1 87.2)" stroke="#222" stroke-width="0.18">P-selectin expression (%)</text>
<text x="277.4" y="87.6" font-size="10.2" font-weight="normal" text-anchor="middle" fill="#222" textLength="74.0" lengthAdjust="spacingAndGlyphs" transform="rotate(-90 277.4 87.6)" stroke="#222" stroke-width="0.18">Serotonin release or</text>
<text x="290.3" y="87.6" font-size="10.2" font-weight="normal" text-anchor="middle" fill="#222" textLength="91.5" lengthAdjust="spacingAndGlyphs" transform="rotate(-90 290.3 87.6)" stroke="#222" stroke-width="0.18">P-selectin expression (%)</text>
<text x="17.2" y="281.0" font-size="10.2" font-weight="normal" text-anchor="middle" fill="#222" textLength="74.0" lengthAdjust="spacingAndGlyphs" transform="rotate(-90 17.2 281.0)" stroke="#222" stroke-width="0.18">Serotonin release or</text>
<text x="30.1" y="281.0" font-size="10.2" font-weight="normal" text-anchor="middle" fill="#222" textLength="91.5" lengthAdjust="spacingAndGlyphs" transform="rotate(-90 30.1 281.0)" stroke="#222" stroke-width="0.18">P-selectin expression (%)</text>
<line x1="317.5" y1="329.8" x2="463.1" y2="184.0" stroke="#1a1a1a" stroke-width="1.1"/>
<polyline points="322.8,324.5 323.8,300 324.3,253 326.5,253 326.5,237.5 328.6,237.5 328.6,221.4 331.5,221.4 331.5,205.5 338.9,205.5 338.9,197.5 407.3,197.5 407.3,189.7 458,189.7" fill="none" stroke="#2d5291" stroke-width="1.2"/>
<polyline points="324.2,324.5 324.5,280 325.8,252.3 325.8,221.5 327.0,221.5 327.0,213.4 334.1,213.4 338.3,205.5 390.8,205.8 420.5,189.7 458,189.7" fill="none" stroke="#b8123c" stroke-width="1.2"/>
<rect x="317.5" y="184.0" width="145.6" height="145.8" fill="none" stroke="#000" stroke-width="1.3"/>
<g stroke="#000" stroke-width="1.1">
<path d="M314.0 324.60H317.5"/>
<path d="M458.00 329.8v3.6"/>
<path d="M314.0 297.70H317.5"/>
<path d="M431.08 329.8v3.6"/>
<path d="M314.0 270.80H317.5"/>
<path d="M404.16 329.8v3.6"/>
<path d="M314.0 243.90H317.5"/>
<path d="M377.24 329.8v3.6"/>
<path d="M314.0 217.00H317.5"/>
<path d="M350.32 329.8v3.6"/>
<path d="M314.0 190.10H317.5"/>
<path d="M323.40 329.8v3.6"/>
</g>
<text x="311.0" y="327.80" font-size="9.4" font-weight="normal" text-anchor="end" fill="#222" textLength="12.4" lengthAdjust="spacingAndGlyphs" stroke="#222" stroke-width="0.18">0.0</text>
<text x="458.20" y="344.4" font-size="9.4" font-weight="normal" text-anchor="middle" fill="#222" textLength="12.0" lengthAdjust="spacingAndGlyphs" stroke="#222" stroke-width="0.18">0.0</text>
<text x="311.0" y="300.90" font-size="9.4" font-weight="normal" text-anchor="end" fill="#222" textLength="12.4" lengthAdjust="spacingAndGlyphs" stroke="#222" stroke-width="0.18">0.2</text>
<text x="431.28" y="344.4" font-size="9.4" font-weight="normal" text-anchor="middle" fill="#222" textLength="12.0" lengthAdjust="spacingAndGlyphs" stroke="#222" stroke-width="0.18">0.2</text>
<text x="311.0" y="274.00" font-size="9.4" font-weight="normal" text-anchor="end" fill="#222" textLength="12.4" lengthAdjust="spacingAndGlyphs" stroke="#222" stroke-width="0.18">0.4</text>
<text x="404.36" y="344.4" font-size="9.4" font-weight="normal" text-anchor="middle" fill="#222" textLength="12.0" lengthAdjust="spacingAndGlyphs" stroke="#222" stroke-width="0.18">0.4</text>
<text x="311.0" y="247.10" font-size="9.4" font-weight="normal" text-anchor="end" fill="#222" textLength="12.4" lengthAdjust="spacingAndGlyphs" stroke="#222" stroke-width="0.18">0.6</text>
<text x="377.44" y="344.4" font-size="9.4" font-weight="normal" text-anchor="middle" fill="#222" textLength="12.0" lengthAdjust="spacingAndGlyphs" stroke="#222" stroke-width="0.18">0.6</text>
<text x="311.0" y="220.20" font-size="9.4" font-weight="normal" text-anchor="end" fill="#222" textLength="12.4" lengthAdjust="spacingAndGlyphs" stroke="#222" stroke-width="0.18">0.8</text>
<text x="350.52" y="344.4" font-size="9.4" font-weight="normal" text-anchor="middle" fill="#222" textLength="12.0" lengthAdjust="spacingAndGlyphs" stroke="#222" stroke-width="0.18">0.8</text>
<text x="311.0" y="193.30" font-size="9.4" font-weight="normal" text-anchor="end" fill="#222" textLength="12.4" lengthAdjust="spacingAndGlyphs" stroke="#222" stroke-width="0.18">1.0</text>
<text x="323.60" y="344.4" font-size="9.4" font-weight="normal" text-anchor="middle" fill="#222" textLength="12.0" lengthAdjust="spacingAndGlyphs" stroke="#222" stroke-width="0.18">1.0</text>
<text x="294.4" y="257.0" font-size="10.8" font-weight="normal" text-anchor="middle" fill="#222" textLength="37.6" lengthAdjust="spacingAndGlyphs" transform="rotate(-90 294.4 257.0)" stroke="#222" stroke-width="0.18">Sensitivity</text>
<text x="390.5" y="358.4" font-size="10.8" font-weight="normal" text-anchor="middle" fill="#222" textLength="37.6" lengthAdjust="spacingAndGlyphs" stroke="#222" stroke-width="0.18">Specificity</text>
<line x1="429.9" y1="290.1" x2="438.5" y2="290.1" stroke="#b8123c" stroke-width="1.2"/>
<line x1="429.9" y1="299.2" x2="438.5" y2="299.2" stroke="#2f5597" stroke-width="1.2"/>
<text x="441.9" y="292.8" font-size="8.6" font-weight="normal" text-anchor="start" fill="#222" textLength="15.0" lengthAdjust="spacingAndGlyphs">SRA</text>
<text x="441.9" y="301.7" font-size="8.6" font-weight="normal" text-anchor="start" fill="#222" textLength="15.0" lengthAdjust="spacingAndGlyphs">PEA</text>
<g stroke="#000" stroke-width="1.1" fill="none">
<rect x="297.3" y="371.6" width="186.2" height="38.8"/>
<line x1="324.0" y1="371.6" x2="324.0" y2="410.4"/>
<line x1="358.3" y1="371.6" x2="358.3" y2="410.4"/>
<line x1="420.9" y1="371.6" x2="420.9" y2="410.4"/>
<line x1="297.3" y1="384.2" x2="483.5" y2="384.2"/>
<line x1="297.3" y1="397.3" x2="483.5" y2="397.3"/>
</g>
<text x="341.1" y="380.7" font-size="8.2" font-weight="bold" text-anchor="middle" fill="#000" textLength="17.6" lengthAdjust="spacingAndGlyphs" stroke="#000" stroke-width="0.2">AUC</text>
<text x="389.4" y="380.7" font-size="8.2" font-weight="bold" text-anchor="middle" fill="#000" textLength="56.2" lengthAdjust="spacingAndGlyphs" stroke="#000" stroke-width="0.2">Lower CI: 95%</text>
<text x="452.3" y="380.7" font-size="8.2" font-weight="bold" text-anchor="middle" fill="#000" textLength="57.0" lengthAdjust="spacingAndGlyphs" stroke="#000" stroke-width="0.2">Upper CI: 95%</text>
<text x="310.7" y="393.5" font-size="8.2" font-weight="bold" text-anchor="middle" fill="#000" textLength="15.5" lengthAdjust="spacingAndGlyphs" stroke="#000" stroke-width="0.2">PEA</text>
<text x="310.7" y="406.5" font-size="8.2" font-weight="bold" text-anchor="middle" fill="#000" textLength="15.5" lengthAdjust="spacingAndGlyphs" stroke="#000" stroke-width="0.2">SRA</text>
<text x="340.3" y="393.5" font-size="8.4" font-weight="normal" text-anchor="middle" fill="#222" textLength="25.3" lengthAdjust="spacingAndGlyphs">0.9385</text>
<text x="340.3" y="406.5" font-size="8.4" font-weight="normal" text-anchor="middle" fill="#222" textLength="25.3" lengthAdjust="spacingAndGlyphs">0.9124</text>
<text x="389.4" y="393.5" font-size="8.4" font-weight="normal" text-anchor="middle" fill="#222" textLength="26.2" lengthAdjust="spacingAndGlyphs">0.8672</text>
<text x="389.4" y="406.5" font-size="8.4" font-weight="normal" text-anchor="middle" fill="#222" textLength="26.2" lengthAdjust="spacingAndGlyphs">0.8166</text>
<text x="452.4" y="393.5" font-size="8.4" font-weight="normal" text-anchor="middle" fill="#222" textLength="19.7" lengthAdjust="spacingAndGlyphs">1.000</text>
<text x="452.4" y="406.5" font-size="8.4" font-weight="normal" text-anchor="middle" fill="#222" textLength="19.7" lengthAdjust="spacingAndGlyphs">1.000</text>
</svg>
</body></html>
